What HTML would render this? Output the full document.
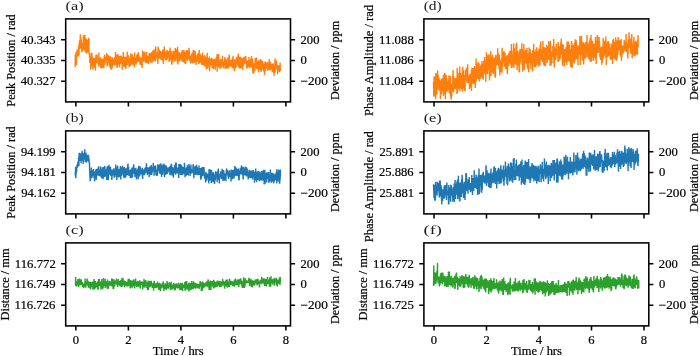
<!DOCTYPE html>
<html><head><meta charset="utf-8"><style>html,body{margin:0;padding:0;background:#fff;overflow:hidden}svg{display:block}</style></head><body>
<svg style="will-change:transform" width="700" height="356" viewBox="0 0 700 356">
<rect width="700" height="356" fill="#fff"/>
<path d="M75.2 67.0 75.3 54.5 75.5 61.4 75.6 57.9 75.8 57.8 75.9 58.0 76.1 51.7 76.2 56.6 76.3 53.9 76.5 64.9 76.6 56.4 76.8 53.6 76.9 53.4 77.1 51.6 77.2 49.5 77.3 51.8 77.5 54.9 77.6 51.5 77.8 55.7 77.9 50.5 78.1 50.8 78.2 56.6 78.3 51.6 78.5 46.5 78.6 47.3 78.8 49.8 78.9 55.5 79.1 44.2 79.2 43.9 79.3 49.1 79.5 40.3 79.6 43.3 79.8 48.5 79.9 47.2 80.1 44.8 80.2 47.5 80.3 34.3 80.5 48.8 80.6 40.3 80.8 37.4 80.9 46.6 81.1 48.6 81.2 43.2 81.3 40.0 81.5 45.4 81.6 45.1 81.8 52.3 81.9 49.3 82.1 47.4 82.2 51.7 82.3 45.9 82.5 42.8 82.6 49.5 82.8 49.5 82.9 45.9 83.1 43.3 83.2 47.7 83.4 35.2 83.5 49.6 83.6 48.8 83.8 38.9 83.9 45.9 84.1 41.3 84.2 49.3 84.4 36.7 84.5 41.2 84.6 49.0 84.8 50.4 84.9 35.1 85.1 42.7 85.2 46.6 85.4 42.3 85.5 52.6 85.6 39.7 85.8 46.9 85.9 40.6 86.1 52.0 86.2 45.7 86.4 44.3 86.5 38.5 86.6 53.6 86.8 49.2 86.9 49.7 87.1 51.5 87.2 47.4 87.4 42.9 87.5 42.2 87.6 42.3 87.8 52.5 87.9 39.7 88.1 43.8 88.2 44.6 88.4 46.8 88.5 48.4 88.6 40.3 88.8 37.8 88.9 47.7 89.1 54.3 89.2 53.4 89.4 53.1 89.5 52.7 89.6 57.4 89.8 57.4 89.9 63.1 90.1 57.5 90.2 61.5 90.4 60.6 90.5 62.9 90.6 61.2 90.8 69.8 90.9 66.0 91.1 66.1 91.2 53.3 91.4 60.1 91.5 58.7 91.6 62.3 91.8 52.5 91.9 65.0 92.1 64.8 92.2 56.5 92.4 57.8 92.5 58.6 92.6 61.8 92.8 64.4 92.9 69.7 93.1 61.3 93.2 64.7 93.4 62.5 93.5 68.1 93.6 64.4 93.8 66.8 93.9 57.9 94.1 61.3 94.2 58.9 94.4 67.6 94.5 64.2 94.6 60.9 94.8 60.2 94.9 63.1 95.1 59.0 95.2 58.2 95.4 63.1 95.5 70.4 95.6 59.9 95.8 58.5 95.9 55.6 96.1 54.9 96.2 61.6 96.4 62.9 96.5 60.0 96.6 61.5 96.8 61.1 96.9 61.0 97.1 54.5 97.2 58.1 97.4 60.1 97.5 57.4 97.7 59.0 97.8 57.4 97.9 59.5 98.1 63.7 98.2 58.8 98.4 59.6 98.5 63.4 98.7 62.8 98.8 66.7 98.9 52.5 99.1 63.2 99.2 58.2 99.4 60.5 99.5 62.6 99.7 63.4 99.8 63.0 99.9 59.5 100.1 65.0 100.2 58.1 100.4 58.7 100.5 62.1 100.7 57.2 100.8 67.9 100.9 64.0 101.1 68.3 101.2 60.2 101.4 59.1 101.5 61.2 101.7 63.6 101.8 58.9 101.9 63.1 102.1 62.2 102.2 68.3 102.4 60.0 102.5 66.7 102.7 60.7 102.8 59.5 102.9 60.7 103.1 58.4 103.2 63.3 103.4 66.2 103.5 63.0 103.7 64.5 103.8 68.2 103.9 63.1 104.1 62.6 104.2 60.7 104.4 55.6 104.5 64.2 104.7 54.7 104.8 63.7 104.9 61.0 105.1 64.8 105.2 60.1 105.4 57.2 105.5 61.5 105.7 57.9 105.8 59.5 105.9 59.9 106.1 59.4 106.2 59.8 106.4 57.9 106.5 60.4 106.7 53.1 106.8 60.5 106.9 56.6 107.1 65.6 107.2 66.4 107.4 54.5 107.5 62.3 107.7 61.1 107.8 57.0 107.9 62.6 108.1 59.4 108.2 55.2 108.4 60.5 108.5 60.8 108.7 62.1 108.8 56.8 108.9 64.2 109.1 64.5 109.2 57.0 109.4 58.1 109.5 60.2 109.7 58.3 109.8 66.9 109.9 61.0 110.1 56.1 110.2 56.9 110.4 59.4 110.5 68.5 110.7 59.9 110.8 61.6 110.9 63.2 111.1 61.0 111.2 69.7 111.4 59.6 111.5 64.3 111.7 62.3 111.8 64.0 112.0 57.0 112.1 68.5 112.2 61.3 112.4 62.3 112.5 58.6 112.7 59.1 112.8 63.7 113.0 65.1 113.1 64.0 113.2 65.6 113.4 63.4 113.5 60.3 113.7 62.7 113.8 61.5 114.0 58.8 114.1 62.0 114.2 63.7 114.4 59.5 114.5 57.2 114.7 61.2 114.8 65.6 115.0 57.8 115.1 58.0 115.2 58.0 115.4 63.1 115.5 52.1 115.7 60.1 115.8 63.2 116.0 56.4 116.1 65.1 116.2 61.8 116.4 58.0 116.5 60.9 116.7 54.5 116.8 58.1 117.0 67.9 117.1 57.7 117.2 68.1 117.4 61.3 117.5 65.8 117.7 62.3 117.8 54.0 118.0 60.1 118.1 63.0 118.2 58.2 118.4 57.2 118.5 63.2 118.7 59.5 118.8 55.8 119.0 59.2 119.1 64.8 119.2 60.1 119.4 65.2 119.5 67.5 119.7 61.6 119.8 57.1 120.0 56.0 120.1 60.7 120.2 63.9 120.4 61.6 120.5 62.6 120.7 59.0 120.8 61.9 121.0 59.1 121.1 59.9 121.2 56.0 121.4 55.7 121.5 59.8 121.7 57.3 121.8 57.5 122.0 63.4 122.1 60.5 122.2 69.7 122.4 64.1 122.5 58.5 122.7 64.0 122.8 62.6 123.0 58.8 123.1 65.1 123.2 58.3 123.4 51.9 123.5 64.2 123.7 58.6 123.8 66.1 124.0 58.5 124.1 56.6 124.2 67.1 124.4 56.8 124.5 61.7 124.7 66.6 124.8 61.8 125.0 60.8 125.1 61.5 125.2 63.9 125.4 57.5 125.5 62.9 125.7 62.8 125.8 69.0 126.0 58.5 126.1 56.7 126.2 62.7 126.4 59.0 126.5 61.3 126.7 60.8 126.8 65.0 127.0 57.9 127.1 59.3 127.3 51.8 127.4 56.0 127.5 64.7 127.7 56.4 127.8 56.2 128.0 54.9 128.1 61.3 128.3 60.2 128.4 55.9 128.5 62.4 128.7 60.8 128.8 63.2 129.0 58.4 129.1 67.2 129.3 62.2 129.4 60.0 129.5 58.3 129.7 59.4 129.8 63.6 130.0 59.5 130.1 64.7 130.3 63.1 130.4 65.9 130.5 63.7 130.7 60.3 130.8 53.2 131.0 61.3 131.1 63.1 131.3 60.9 131.4 61.9 131.5 57.8 131.7 58.1 131.8 56.1 132.0 64.7 132.1 60.1 132.3 57.6 132.4 54.3 132.5 58.7 132.7 64.5 132.8 60.4 133.0 56.7 133.1 64.3 133.3 64.4 133.4 63.0 133.5 62.5 133.7 64.2 133.8 62.0 134.0 62.9 134.1 57.1 134.3 65.4 134.4 60.4 134.5 67.2 134.7 52.5 134.8 62.2 135.0 62.7 135.1 58.1 135.3 61.5 135.4 63.0 135.5 62.3 135.7 58.0 135.8 59.3 136.0 63.1 136.1 64.4 136.3 60.4 136.4 60.1 136.5 60.2 136.7 62.7 136.8 55.1 137.0 54.5 137.1 59.3 137.3 54.9 137.4 56.6 137.5 59.1 137.7 60.1 137.8 54.8 138.0 61.9 138.1 52.5 138.3 60.3 138.4 52.2 138.5 53.6 138.7 61.2 138.8 57.3 139.0 55.7 139.1 57.5 139.3 60.6 139.4 58.8 139.5 59.0 139.7 63.3 139.8 56.9 140.0 57.5 140.1 57.6 140.3 64.2 140.4 63.8 140.5 65.0 140.7 60.6 140.8 60.1 141.0 63.8 141.1 58.6 141.3 63.5 141.4 63.0 141.6 57.6 141.7 60.0 141.8 59.9 142.0 66.9 142.1 67.9 142.3 59.3 142.4 59.3 142.6 50.6 142.7 59.4 142.8 58.5 143.0 54.5 143.1 61.1 143.3 52.4 143.4 57.3 143.6 58.5 143.7 53.2 143.8 61.0 144.0 61.8 144.1 52.6 144.3 51.8 144.4 59.4 144.6 56.6 144.7 51.7 144.8 55.2 145.0 55.9 145.1 55.9 145.3 59.2 145.4 57.8 145.6 63.2 145.7 61.5 145.8 59.1 146.0 60.2 146.1 61.5 146.3 59.0 146.4 52.1 146.6 59.8 146.7 56.5 146.8 62.2 147.0 56.4 147.1 58.4 147.3 58.3 147.4 63.2 147.6 57.9 147.7 56.6 147.8 58.2 148.0 55.5 148.1 57.6 148.3 57.3 148.4 58.2 148.6 64.2 148.7 55.6 148.8 57.2 149.0 56.5 149.1 59.9 149.3 52.8 149.4 54.3 149.6 57.3 149.7 59.7 149.8 57.5 150.0 55.9 150.1 53.8 150.3 59.1 150.4 62.6 150.6 58.0 150.7 57.4 150.8 58.4 151.0 53.0 151.1 55.6 151.3 55.6 151.4 57.6 151.6 56.4 151.7 52.1 151.8 60.6 152.0 62.8 152.1 55.4 152.3 58.2 152.4 57.8 152.6 58.9 152.7 50.4 152.8 61.7 153.0 54.1 153.1 60.8 153.3 56.2 153.4 54.4 153.6 55.3 153.7 59.3 153.8 52.7 154.0 54.4 154.1 53.9 154.3 49.2 154.4 60.5 154.6 57.7 154.7 55.7 154.8 60.3 155.0 52.1 155.1 55.3 155.3 61.7 155.4 58.7 155.6 46.9 155.7 46.8 155.9 51.8 156.0 59.1 156.1 53.7 156.3 54.4 156.4 57.6 156.6 52.2 156.7 55.9 156.9 58.0 157.0 56.7 157.1 55.9 157.3 52.4 157.4 56.4 157.6 53.1 157.7 59.4 157.9 64.0 158.0 52.1 158.1 46.4 158.3 52.8 158.4 56.0 158.6 58.5 158.7 58.4 158.9 51.3 159.0 51.2 159.1 58.3 159.3 49.5 159.4 57.6 159.6 52.6 159.7 56.1 159.9 56.0 160.0 56.7 160.1 57.4 160.3 50.9 160.4 56.0 160.6 55.1 160.7 56.2 160.9 59.8 161.0 54.3 161.1 52.7 161.3 52.6 161.4 54.1 161.6 58.1 161.7 52.4 161.9 59.9 162.0 57.1 162.1 55.5 162.3 51.2 162.4 56.7 162.6 58.7 162.7 49.5 162.9 60.1 163.0 61.5 163.1 56.7 163.3 57.1 163.4 64.1 163.6 59.7 163.7 51.7 163.9 54.8 164.0 54.2 164.1 54.5 164.3 46.5 164.4 57.9 164.6 52.7 164.7 55.4 164.9 54.5 165.0 58.3 165.1 53.7 165.3 51.8 165.4 56.7 165.6 59.8 165.7 53.4 165.9 60.1 166.0 55.6 166.1 52.4 166.3 60.4 166.4 51.0 166.6 58.1 166.7 52.4 166.9 56.1 167.0 50.1 167.1 51.9 167.3 59.4 167.4 56.4 167.6 56.2 167.7 54.9 167.9 57.9 168.0 50.9 168.1 51.6 168.3 55.0 168.4 52.5 168.6 52.5 168.7 54.8 168.9 54.2 169.0 54.5 169.1 62.0 169.3 59.5 169.4 60.5 169.6 55.4 169.7 53.9 169.9 50.4 170.0 54.1 170.1 47.6 170.3 52.8 170.4 57.6 170.6 60.4 170.7 57.8 170.9 51.0 171.0 56.1 171.2 51.2 171.3 57.6 171.4 54.3 171.6 58.4 171.7 64.7 171.9 58.6 172.0 63.7 172.2 55.7 172.3 54.0 172.4 60.6 172.6 62.5 172.7 53.9 172.9 56.3 173.0 50.8 173.2 55.2 173.3 59.5 173.4 55.9 173.6 54.3 173.7 51.0 173.9 57.5 174.0 58.7 174.2 58.4 174.3 56.9 174.4 51.0 174.6 61.8 174.7 55.4 174.9 55.5 175.0 58.7 175.2 48.0 175.3 55.6 175.4 54.8 175.6 56.9 175.7 60.7 175.9 57.2 176.0 48.8 176.2 53.8 176.3 55.9 176.4 55.9 176.6 51.1 176.7 50.5 176.9 58.4 177.0 57.9 177.2 56.4 177.3 50.1 177.4 63.2 177.6 46.8 177.7 55.4 177.9 64.5 178.0 56.0 178.2 57.5 178.3 52.2 178.4 61.8 178.6 51.5 178.7 57.4 178.9 57.4 179.0 53.2 179.2 61.2 179.3 52.6 179.4 55.3 179.6 57.1 179.7 55.5 179.9 59.2 180.0 60.7 180.2 55.8 180.3 54.5 180.4 54.4 180.6 54.8 180.7 58.8 180.9 54.6 181.0 56.8 181.2 55.1 181.3 52.4 181.4 58.6 181.6 52.1 181.7 55.8 181.9 61.3 182.0 51.8 182.2 55.6 182.3 49.9 182.4 53.8 182.6 50.2 182.7 54.3 182.9 53.6 183.0 56.3 183.2 62.0 183.3 57.6 183.4 59.1 183.6 56.2 183.7 55.8 183.9 53.6 184.0 50.2 184.2 57.0 184.3 63.2 184.4 59.2 184.6 55.2 184.7 63.1 184.9 54.9 185.0 54.1 185.2 51.9 185.3 53.0 185.5 55.3 185.6 63.9 185.7 55.8 185.9 52.7 186.0 54.4 186.2 55.9 186.3 50.2 186.5 56.9 186.6 59.2 186.7 57.8 186.9 58.5 187.0 51.7 187.2 50.1 187.3 60.7 187.5 60.5 187.6 50.8 187.7 57.5 187.9 57.1 188.0 59.2 188.2 57.8 188.3 55.0 188.5 58.1 188.6 58.4 188.7 57.4 188.9 50.9 189.0 47.7 189.2 54.6 189.3 51.5 189.5 58.8 189.6 60.3 189.7 58.5 189.9 56.7 190.0 58.2 190.2 62.7 190.3 55.7 190.5 61.2 190.6 60.5 190.7 58.9 190.9 63.6 191.0 55.7 191.2 62.0 191.3 55.0 191.5 55.8 191.6 54.4 191.7 59.8 191.9 54.0 192.0 57.5 192.2 52.6 192.3 60.5 192.5 62.9 192.6 57.0 192.7 62.5 192.9 58.2 193.0 63.6 193.2 56.0 193.3 50.0 193.5 61.5 193.6 55.4 193.7 52.0 193.9 53.8 194.0 50.4 194.2 55.9 194.3 52.9 194.5 62.7 194.6 59.4 194.7 50.9 194.9 52.1 195.0 55.9 195.2 51.1 195.3 57.9 195.5 58.6 195.6 55.5 195.7 56.4 195.9 60.4 196.0 64.3 196.2 64.8 196.3 59.2 196.5 62.1 196.6 56.3 196.7 60.4 196.9 55.5 197.0 61.7 197.2 54.4 197.3 55.3 197.5 58.4 197.6 60.9 197.7 53.5 197.9 56.4 198.0 59.1 198.2 59.4 198.3 55.4 198.5 58.6 198.6 57.8 198.7 63.9 198.9 61.1 199.0 53.8 199.2 50.1 199.3 58.5 199.5 62.7 199.6 59.0 199.7 62.1 199.9 57.0 200.0 53.8 200.2 61.6 200.3 59.8 200.5 61.9 200.6 54.5 200.8 60.5 200.9 57.9 201.0 62.8 201.2 57.8 201.3 58.1 201.5 57.9 201.6 64.7 201.8 60.7 201.9 57.1 202.0 55.8 202.2 56.1 202.3 65.1 202.5 52.6 202.6 56.3 202.8 61.3 202.9 63.1 203.0 58.5 203.2 62.1 203.3 62.0 203.5 63.0 203.6 59.7 203.8 65.4 203.9 60.1 204.0 65.8 204.2 56.3 204.3 63.9 204.5 55.8 204.6 55.2 204.8 62.1 204.9 57.2 205.0 62.4 205.2 56.6 205.3 66.8 205.5 61.2 205.6 57.2 205.8 62.1 205.9 65.2 206.0 58.7 206.2 63.7 206.3 69.4 206.5 65.1 206.6 62.1 206.8 60.0 206.9 64.1 207.0 56.5 207.2 52.8 207.3 59.8 207.5 58.2 207.6 68.5 207.8 62.6 207.9 58.8 208.0 58.1 208.2 65.0 208.3 60.1 208.5 60.9 208.6 62.2 208.8 63.0 208.9 62.8 209.0 62.4 209.2 66.8 209.3 68.3 209.5 56.5 209.6 71.3 209.8 62.5 209.9 66.8 210.0 58.9 210.2 62.6 210.3 61.9 210.5 61.8 210.6 65.1 210.8 64.8 210.9 58.7 211.0 61.6 211.2 64.5 211.3 64.1 211.5 60.5 211.6 61.2 211.8 61.8 211.9 58.3 212.0 57.8 212.2 68.1 212.3 60.7 212.5 62.2 212.6 59.3 212.8 66.7 212.9 68.3 213.0 61.3 213.2 64.1 213.3 59.4 213.5 69.3 213.6 66.0 213.8 59.2 213.9 66.8 214.0 64.1 214.2 63.9 214.3 63.6 214.5 59.8 214.6 60.0 214.8 64.6 214.9 62.0 215.1 58.7 215.2 69.7 215.3 61.4 215.5 60.2 215.6 59.6 215.8 65.2 215.9 66.4 216.1 63.4 216.2 65.8 216.3 57.1 216.5 60.5 216.6 59.8 216.8 61.4 216.9 63.5 217.1 53.9 217.2 71.7 217.3 59.3 217.5 63.8 217.6 65.7 217.8 65.8 217.9 63.9 218.1 54.0 218.2 59.1 218.3 66.1 218.5 60.1 218.6 59.6 218.8 54.7 218.9 67.7 219.1 65.1 219.2 60.1 219.3 63.2 219.5 63.3 219.6 59.8 219.8 63.2 219.9 65.1 220.1 66.2 220.2 68.9 220.3 63.8 220.5 61.8 220.6 65.1 220.8 61.5 220.9 59.1 221.1 68.0 221.2 62.1 221.3 64.5 221.5 65.8 221.6 59.5 221.8 65.7 221.9 65.3 222.1 63.3 222.2 64.9 222.3 60.7 222.5 55.7 222.6 62.8 222.8 59.9 222.9 66.5 223.1 64.5 223.2 61.6 223.3 63.8 223.5 68.3 223.6 67.7 223.8 64.4 223.9 64.3 224.1 62.1 224.2 62.5 224.3 64.8 224.5 62.6 224.6 64.0 224.8 59.1 224.9 57.7 225.1 57.2 225.2 61.9 225.3 68.7 225.5 68.4 225.6 60.6 225.8 58.8 225.9 67.5 226.1 66.2 226.2 59.4 226.3 68.2 226.5 64.8 226.6 68.7 226.8 65.3 226.9 67.4 227.1 65.5 227.2 60.8 227.3 63.3 227.5 60.9 227.6 66.8 227.8 60.2 227.9 57.7 228.1 66.1 228.2 67.4 228.3 68.3 228.5 66.7 228.6 56.8 228.8 60.1 228.9 60.0 229.1 61.6 229.2 54.4 229.4 61.6 229.5 63.1 229.6 58.7 229.8 62.2 229.9 66.3 230.1 62.0 230.2 66.0 230.4 65.8 230.5 63.9 230.6 63.8 230.8 61.1 230.9 67.2 231.1 61.0 231.2 60.2 231.4 65.4 231.5 60.0 231.6 64.0 231.8 66.3 231.9 63.0 232.1 63.3 232.2 66.3 232.4 66.1 232.5 57.9 232.6 58.5 232.8 68.4 232.9 64.9 233.1 55.8 233.2 58.6 233.4 63.9 233.5 60.5 233.6 66.1 233.8 63.9 233.9 65.3 234.1 59.2 234.2 66.1 234.4 71.2 234.5 61.7 234.6 69.7 234.8 68.1 234.9 66.4 235.1 63.4 235.2 59.5 235.4 60.5 235.5 66.4 235.6 67.1 235.8 67.9 235.9 66.8 236.1 66.4 236.2 61.3 236.4 58.3 236.5 63.4 236.6 64.1 236.8 62.6 236.9 56.7 237.1 60.4 237.2 56.4 237.4 62.1 237.5 57.1 237.6 60.1 237.8 62.1 237.9 61.3 238.1 66.7 238.2 57.5 238.4 53.6 238.5 64.7 238.6 66.8 238.8 67.3 238.9 63.3 239.1 64.0 239.2 62.4 239.4 57.0 239.5 59.3 239.6 63.2 239.8 59.6 239.9 69.1 240.1 56.5 240.2 60.5 240.4 66.2 240.5 60.0 240.6 58.1 240.8 57.4 240.9 60.0 241.1 68.0 241.2 63.4 241.4 64.4 241.5 60.9 241.6 65.5 241.8 62.6 241.9 58.6 242.1 60.5 242.2 63.4 242.4 67.1 242.5 62.0 242.6 64.3 242.8 70.0 242.9 59.4 243.1 57.5 243.2 66.2 243.4 63.9 243.5 61.9 243.6 63.4 243.8 61.1 243.9 63.8 244.1 60.4 244.2 64.5 244.4 56.8 244.5 58.0 244.7 61.6 244.8 59.4 244.9 63.5 245.1 61.3 245.2 59.6 245.4 61.9 245.5 59.8 245.7 55.9 245.8 57.6 245.9 58.6 246.1 60.0 246.2 61.6 246.4 65.1 246.5 63.9 246.7 68.4 246.8 66.4 246.9 61.7 247.1 68.4 247.2 66.6 247.4 60.5 247.5 63.5 247.7 66.5 247.8 63.1 247.9 66.1 248.1 63.9 248.2 65.2 248.4 61.8 248.5 64.0 248.7 61.8 248.8 65.6 248.9 56.9 249.1 64.7 249.2 68.3 249.4 65.6 249.5 63.2 249.7 65.0 249.8 60.0 249.9 59.9 250.1 61.7 250.2 62.6 250.4 66.9 250.5 60.0 250.7 67.3 250.8 58.4 250.9 61.2 251.1 63.9 251.2 67.8 251.4 61.7 251.5 56.1 251.7 65.1 251.8 63.5 251.9 59.5 252.1 59.4 252.2 61.0 252.4 64.4 252.5 66.6 252.7 59.3 252.8 73.0 252.9 64.4 253.1 63.5 253.2 67.5 253.4 65.6 253.5 73.6 253.7 69.6 253.8 63.9 253.9 64.2 254.1 63.9 254.2 64.7 254.4 68.1 254.5 62.8 254.7 71.2 254.8 65.1 254.9 64.6 255.1 68.9 255.2 58.1 255.4 61.4 255.5 67.5 255.7 64.9 255.8 65.0 255.9 66.5 256.1 62.6 256.2 63.8 256.4 59.5 256.5 57.5 256.7 68.8 256.8 60.5 256.9 61.4 257.1 68.9 257.2 67.8 257.4 62.3 257.5 62.6 257.7 64.8 257.8 61.5 257.9 67.6 258.1 66.2 258.2 66.2 258.4 68.8 258.5 68.6 258.7 72.5 258.8 71.5 259.0 59.8 259.1 69.5 259.2 62.3 259.4 60.8 259.5 68.7 259.7 63.4 259.8 64.5 260.0 69.9 260.1 63.7 260.2 62.5 260.4 67.0 260.5 70.1 260.7 66.6 260.8 58.9 261.0 62.3 261.1 64.2 261.2 71.9 261.4 68.1 261.5 67.9 261.7 69.5 261.8 64.1 262.0 66.9 262.1 66.6 262.2 60.8 262.4 64.7 262.5 66.7 262.7 60.7 262.8 68.4 263.0 68.6 263.1 69.7 263.2 63.2 263.4 66.4 263.5 71.5 263.7 69.7 263.8 64.0 264.0 67.3 264.1 71.2 264.2 65.5 264.4 67.1 264.5 75.0 264.7 65.6 264.8 65.2 265.0 61.6 265.1 63.0 265.2 71.6 265.4 65.7 265.5 62.1 265.7 63.2 265.8 66.4 266.0 68.7 266.1 63.0 266.2 68.8 266.4 64.2 266.5 67.5 266.7 68.1 266.8 68.2 267.0 64.6 267.1 65.7 267.2 68.4 267.4 61.9 267.5 67.1 267.7 68.9 267.8 70.6 268.0 66.9 268.1 66.4 268.2 67.2 268.4 63.9 268.5 66.1 268.7 68.3 268.8 67.7 269.0 62.7 269.1 65.9 269.2 58.9 269.4 69.9 269.5 65.3 269.7 67.9 269.8 62.5 270.0 66.3 270.1 68.2 270.2 70.4 270.4 61.5 270.5 69.7 270.7 65.7 270.8 63.8 271.0 68.4 271.1 65.9 271.2 66.0 271.4 64.4 271.5 67.4 271.7 66.8 271.8 66.1 272.0 63.7 272.1 64.9 272.2 68.4 272.4 71.6 272.5 66.8 272.7 72.1 272.8 67.0 273.0 63.4 273.1 69.8 273.3 63.5 273.4 68.9 273.5 71.4 273.7 66.3 273.8 67.3 274.0 76.1 274.1 68.4 274.3 68.4 274.4 70.5 274.5 66.9 274.7 67.0 274.8 68.7 275.0 58.5 275.1 72.8 275.3 63.3 275.4 63.1 275.5 68.4 275.7 66.4 275.8 61.8 276.0 67.0 276.1 62.1 276.3 63.9 276.4 60.6 276.5 62.6 276.7 67.4 276.8 66.5 277.0 67.3 277.1 69.7 277.3 66.6 277.4 64.9 277.5 66.7 277.7 74.3 277.8 68.7 278.0 69.8 278.1 68.3 278.3 69.6 278.4 70.2 278.5 68.9 278.7 68.6 278.8 66.1 279.0 65.6 279.1 70.0 279.3 71.3 279.4 71.9 279.5 69.1 279.7 65.7 279.8 70.8 280.0 70.5 280.1 62.5 280.3 70.7 280.4 69.3" fill="none" stroke="#ff7f0e" stroke-width="1.4" stroke-linejoin="miter" stroke-miterlimit="2"/>
<path d="M75.2 175.5 75.3 173.1 75.5 173.1 75.6 166.8 75.8 178.2 75.9 175.5 76.1 170.6 76.2 173.1 76.3 171.3 76.5 168.1 76.6 171.6 76.8 167.3 76.9 166.5 77.1 164.6 77.2 167.8 77.3 165.8 77.5 167.7 77.6 163.7 77.8 165.2 77.9 161.4 78.1 165.4 78.2 163.0 78.3 162.9 78.5 162.1 78.6 157.2 78.8 162.5 78.9 166.2 79.1 153.8 79.2 153.2 79.3 152.8 79.5 159.9 79.6 157.9 79.8 160.9 79.9 159.6 80.1 158.1 80.2 158.4 80.3 156.8 80.5 159.8 80.6 153.3 80.8 155.9 80.9 158.0 81.1 163.2 81.2 154.8 81.3 153.4 81.5 155.2 81.6 159.9 81.8 156.0 81.9 160.8 82.1 150.7 82.2 160.2 82.3 159.7 82.5 152.0 82.6 156.9 82.8 160.3 82.9 156.9 83.1 159.9 83.2 163.9 83.4 157.3 83.5 155.1 83.6 153.6 83.8 158.1 83.9 155.6 84.1 156.1 84.2 156.1 84.4 158.6 84.5 152.9 84.6 151.8 84.8 149.3 84.9 160.6 85.1 157.1 85.2 161.9 85.4 157.4 85.5 154.9 85.6 159.0 85.8 157.1 85.9 152.7 86.1 153.9 86.2 162.8 86.4 158.3 86.5 159.2 86.6 157.1 86.8 155.2 86.9 160.2 87.1 156.8 87.2 154.9 87.4 156.9 87.5 154.9 87.6 158.0 87.8 161.1 87.9 154.7 88.1 161.8 88.2 155.1 88.4 157.7 88.5 154.8 88.6 157.0 88.8 157.7 88.9 158.8 89.1 160.0 89.2 162.0 89.4 163.8 89.5 162.6 89.6 169.0 89.8 173.5 89.9 176.9 90.1 175.9 90.2 181.2 90.4 174.8 90.5 172.4 90.6 180.0 90.8 170.4 90.9 177.0 91.1 170.9 91.2 175.2 91.4 167.5 91.5 176.0 91.6 172.4 91.8 169.9 91.9 177.9 92.1 175.2 92.2 173.2 92.4 170.5 92.5 173.4 92.6 172.6 92.8 175.4 92.9 176.0 93.1 171.4 93.2 171.6 93.4 171.7 93.5 169.1 93.6 171.9 93.8 173.6 93.9 176.3 94.1 178.1 94.2 171.2 94.4 176.2 94.5 173.3 94.6 181.4 94.8 174.5 94.9 176.7 95.1 172.1 95.2 172.4 95.4 175.3 95.5 172.8 95.6 175.8 95.8 169.6 95.9 176.1 96.1 171.3 96.2 179.9 96.4 173.1 96.5 177.2 96.6 168.8 96.8 174.6 96.9 170.2 97.1 171.6 97.2 173.3 97.4 172.0 97.5 173.9 97.7 175.2 97.8 175.0 97.9 172.3 98.1 168.3 98.2 169.9 98.4 172.2 98.5 166.2 98.7 175.1 98.8 172.1 98.9 172.0 99.1 175.9 99.2 174.5 99.4 173.4 99.5 169.6 99.7 173.8 99.8 174.2 99.9 169.8 100.1 176.2 100.2 174.4 100.4 166.5 100.5 173.3 100.7 168.9 100.8 176.7 100.9 175.6 101.1 169.5 101.2 170.3 101.4 173.6 101.5 172.4 101.7 178.3 101.8 176.0 101.9 173.0 102.1 175.4 102.2 167.2 102.4 174.6 102.5 176.6 102.7 172.9 102.8 170.5 102.9 174.9 103.1 179.3 103.2 173.8 103.4 169.7 103.5 177.6 103.7 167.0 103.8 174.7 103.9 171.4 104.1 176.3 104.2 170.5 104.4 177.1 104.5 173.9 104.7 167.1 104.8 165.9 104.9 170.9 105.1 176.2 105.2 172.5 105.4 172.3 105.5 171.1 105.7 174.5 105.8 173.7 105.9 173.3 106.1 169.4 106.2 176.3 106.4 176.7 106.5 168.7 106.7 180.1 106.8 175.5 106.9 171.4 107.1 166.5 107.2 174.5 107.4 174.5 107.5 170.4 107.7 166.3 107.8 175.7 107.9 170.3 108.1 170.7 108.2 180.1 108.4 179.1 108.5 175.5 108.7 170.6 108.8 174.2 108.9 164.8 109.1 172.1 109.2 169.1 109.4 167.6 109.5 166.6 109.7 173.2 109.8 172.1 109.9 172.4 110.1 174.6 110.2 169.5 110.4 168.4 110.5 166.9 110.7 172.0 110.8 175.9 110.9 173.1 111.1 175.5 111.2 169.6 111.4 171.9 111.5 171.0 111.7 169.9 111.8 179.9 112.0 176.8 112.1 171.9 112.2 172.2 112.4 174.4 112.5 169.9 112.7 175.6 112.8 169.8 113.0 172.5 113.1 170.7 113.2 172.5 113.4 169.6 113.5 168.7 113.7 170.2 113.8 170.7 114.0 172.1 114.1 173.2 114.2 177.7 114.4 175.3 114.5 172.0 114.7 174.9 114.8 169.9 115.0 176.8 115.1 173.8 115.2 167.9 115.4 174.9 115.5 175.1 115.7 164.6 115.8 170.5 116.0 171.4 116.1 166.7 116.2 169.2 116.4 169.8 116.5 174.7 116.7 174.3 116.8 179.9 117.0 171.9 117.1 176.5 117.2 172.7 117.4 173.5 117.5 168.7 117.7 165.8 117.8 169.7 118.0 174.5 118.1 176.9 118.2 173.9 118.4 173.2 118.5 169.2 118.7 176.9 118.8 176.9 119.0 170.7 119.1 172.4 119.2 169.0 119.4 176.9 119.5 173.3 119.7 171.8 119.8 173.2 120.0 173.2 120.1 170.8 120.2 168.1 120.4 167.5 120.5 165.9 120.7 173.6 120.8 179.4 121.0 167.0 121.1 173.0 121.2 173.8 121.4 169.4 121.5 173.1 121.7 168.9 121.8 175.7 122.0 169.9 122.1 172.0 122.2 174.2 122.4 170.4 122.5 165.8 122.7 169.6 122.8 173.6 123.0 171.5 123.1 172.6 123.2 168.3 123.4 172.4 123.5 174.4 123.7 172.1 123.8 177.8 124.0 171.1 124.1 168.8 124.2 167.0 124.4 176.0 124.5 172.4 124.7 175.6 124.8 174.1 125.0 178.1 125.1 176.5 125.2 171.0 125.4 172.8 125.5 175.3 125.7 168.2 125.8 176.8 126.0 175.9 126.1 175.0 126.2 171.5 126.4 172.9 126.5 168.3 126.7 171.8 126.8 169.6 127.0 171.8 127.1 170.2 127.3 172.5 127.4 175.3 127.5 166.7 127.7 173.9 127.8 164.4 128.0 164.3 128.1 170.8 128.3 171.4 128.4 172.9 128.5 166.7 128.7 171.4 128.8 172.1 129.0 176.0 129.1 172.0 129.3 174.3 129.4 169.7 129.5 172.0 129.7 171.6 129.8 175.0 130.0 169.8 130.1 170.1 130.3 174.7 130.4 178.2 130.5 173.9 130.7 173.7 130.8 171.6 131.0 176.3 131.1 174.4 131.3 178.1 131.4 173.6 131.5 169.2 131.7 170.4 131.8 168.8 132.0 167.8 132.1 175.8 132.3 174.0 132.4 167.5 132.5 177.4 132.7 171.9 132.8 168.4 133.0 172.8 133.1 171.2 133.3 168.7 133.4 165.4 133.5 171.8 133.7 172.6 133.8 164.2 134.0 173.7 134.1 173.6 134.3 170.4 134.4 172.3 134.5 171.7 134.7 169.8 134.8 171.8 135.0 177.2 135.1 168.3 135.3 173.8 135.4 173.5 135.5 170.7 135.7 171.4 135.8 167.9 136.0 169.7 136.1 172.7 136.3 173.9 136.4 170.0 136.5 179.5 136.7 171.1 136.8 173.1 137.0 171.8 137.1 171.3 137.3 176.4 137.4 170.4 137.5 175.8 137.7 175.6 137.8 168.5 138.0 174.8 138.1 169.2 138.3 179.3 138.4 170.5 138.5 168.8 138.7 165.7 138.8 167.4 139.0 170.0 139.1 168.6 139.3 167.8 139.4 169.4 139.5 171.2 139.7 176.4 139.8 166.2 140.0 170.1 140.1 168.8 140.3 167.1 140.4 168.0 140.5 169.1 140.7 173.9 140.8 171.1 141.0 170.5 141.1 174.3 141.3 172.8 141.4 171.4 141.6 173.5 141.7 169.7 141.8 174.0 142.0 173.1 142.1 170.4 142.3 167.8 142.4 176.8 142.6 172.2 142.7 178.9 142.8 169.9 143.0 174.5 143.1 170.5 143.3 172.6 143.4 174.3 143.6 169.2 143.7 171.6 143.8 172.6 144.0 172.1 144.1 173.5 144.3 175.2 144.4 174.1 144.6 171.8 144.7 170.2 144.8 168.4 145.0 169.5 145.1 170.0 145.3 173.5 145.4 170.0 145.6 167.1 145.7 172.8 145.8 168.2 146.0 168.4 146.1 170.1 146.3 172.3 146.4 163.2 146.6 166.6 146.7 170.9 146.8 169.2 147.0 167.7 147.1 168.6 147.3 174.9 147.4 169.7 147.6 173.1 147.7 173.2 147.8 169.1 148.0 171.6 148.1 169.0 148.3 168.8 148.4 167.4 148.6 173.8 148.7 169.9 148.8 169.3 149.0 167.5 149.1 177.1 149.3 173.7 149.4 171.0 149.6 169.6 149.7 166.5 149.8 172.4 150.0 172.3 150.1 166.6 150.3 174.6 150.4 173.0 150.6 167.8 150.7 169.1 150.8 169.3 151.0 171.3 151.1 170.1 151.3 164.9 151.4 174.9 151.6 171.1 151.7 174.5 151.8 174.3 152.0 169.4 152.1 170.9 152.3 171.9 152.4 172.1 152.6 168.6 152.7 167.5 152.8 169.1 153.0 166.5 153.1 167.8 153.3 162.9 153.4 169.7 153.6 166.2 153.7 167.3 153.8 169.1 154.0 170.7 154.1 175.8 154.3 170.9 154.4 165.8 154.6 171.1 154.7 168.5 154.8 172.1 155.0 168.4 155.1 168.4 155.3 169.6 155.4 169.3 155.6 165.5 155.7 169.1 155.9 171.6 156.0 175.3 156.1 170.4 156.3 170.2 156.4 173.0 156.6 172.7 156.7 176.0 156.9 172.6 157.0 170.8 157.1 175.0 157.3 175.7 157.4 168.7 157.6 170.3 157.7 164.3 157.9 168.1 158.0 166.6 158.1 168.8 158.3 167.8 158.4 168.4 158.6 168.8 158.7 170.8 158.9 170.0 159.0 167.7 159.1 165.1 159.3 172.9 159.4 173.5 159.6 167.6 159.7 170.9 159.9 164.3 160.0 164.0 160.1 168.5 160.3 173.5 160.4 165.6 160.6 166.5 160.7 174.2 160.9 163.2 161.0 171.4 161.1 171.2 161.3 168.5 161.4 170.2 161.6 176.9 161.7 165.7 161.9 168.1 162.0 168.3 162.1 167.3 162.3 165.4 162.4 174.8 162.6 170.6 162.7 164.4 162.9 167.6 163.0 171.2 163.1 170.7 163.3 164.8 163.4 169.2 163.6 169.9 163.7 170.4 163.9 170.6 164.0 163.6 164.1 174.7 164.3 170.2 164.4 175.0 164.6 177.2 164.7 168.3 164.9 165.2 165.0 172.0 165.1 168.8 165.3 168.2 165.4 166.3 165.6 174.9 165.7 168.3 165.9 165.3 166.0 168.3 166.1 165.8 166.3 169.9 166.4 168.0 166.6 166.4 166.7 171.5 166.9 167.4 167.0 172.0 167.1 173.9 167.3 168.8 167.4 167.8 167.6 171.0 167.7 173.4 167.9 170.7 168.0 170.8 168.1 169.8 168.3 170.9 168.4 171.8 168.6 167.5 168.7 168.0 168.9 169.5 169.0 167.2 169.1 169.8 169.3 171.4 169.4 170.1 169.6 167.7 169.7 167.1 169.9 175.3 170.0 172.3 170.1 166.1 170.3 166.4 170.4 175.2 170.6 174.3 170.7 169.7 170.9 172.7 171.0 164.5 171.2 169.6 171.3 172.0 171.4 163.8 171.6 167.5 171.7 172.7 171.9 174.1 172.0 168.7 172.2 171.7 172.3 175.8 172.4 169.2 172.6 166.7 172.7 170.7 172.9 169.6 173.0 174.8 173.2 170.8 173.3 167.9 173.4 177.8 173.6 168.5 173.7 171.4 173.9 172.3 174.0 172.8 174.2 171.0 174.3 172.0 174.4 169.5 174.6 164.8 174.7 168.9 174.9 169.1 175.0 168.9 175.2 170.2 175.3 167.6 175.4 173.9 175.6 174.4 175.7 162.6 175.9 169.5 176.0 167.2 176.2 162.5 176.3 170.7 176.4 167.6 176.6 168.1 176.7 167.5 176.9 172.8 177.0 173.4 177.2 169.9 177.3 171.9 177.4 169.4 177.6 170.5 177.7 167.6 177.9 170.2 178.0 168.1 178.2 171.3 178.3 173.2 178.4 172.0 178.6 174.6 178.7 178.0 178.9 164.0 179.0 170.9 179.2 169.4 179.3 170.3 179.4 167.4 179.6 172.4 179.7 171.3 179.9 170.1 180.0 171.2 180.2 170.1 180.3 164.0 180.4 175.1 180.6 171.2 180.7 169.0 180.9 172.6 181.0 169.7 181.2 164.7 181.3 174.1 181.4 166.0 181.6 170.6 181.7 171.6 181.9 175.0 182.0 173.9 182.2 170.2 182.3 166.6 182.4 167.8 182.6 172.4 182.7 174.7 182.9 170.8 183.0 167.0 183.2 172.4 183.3 167.8 183.4 167.8 183.6 168.3 183.7 171.2 183.9 170.4 184.0 172.6 184.2 173.7 184.3 170.9 184.4 162.8 184.6 163.7 184.7 169.7 184.9 169.5 185.0 177.2 185.2 170.5 185.3 170.3 185.5 174.2 185.6 174.6 185.7 170.9 185.9 173.1 186.0 168.0 186.2 168.8 186.3 175.8 186.5 167.3 186.6 174.5 186.7 173.6 186.9 173.8 187.0 174.5 187.2 173.7 187.3 165.3 187.5 169.0 187.6 170.1 187.7 175.0 187.9 167.9 188.0 169.2 188.2 170.2 188.3 175.6 188.5 166.6 188.6 166.9 188.7 172.7 188.9 163.9 189.0 171.4 189.2 168.8 189.3 165.5 189.5 169.1 189.6 167.3 189.7 171.4 189.9 172.3 190.0 175.9 190.2 170.7 190.3 170.9 190.5 168.4 190.6 170.2 190.7 173.7 190.9 164.6 191.0 173.0 191.2 169.1 191.3 171.5 191.5 172.1 191.6 173.4 191.7 171.2 191.9 169.2 192.0 171.5 192.2 170.4 192.3 169.4 192.5 171.1 192.6 173.0 192.7 170.4 192.9 170.3 193.0 165.4 193.2 169.3 193.3 163.9 193.5 172.3 193.6 167.0 193.7 174.3 193.9 178.4 194.0 168.1 194.2 173.8 194.3 170.6 194.5 167.7 194.6 167.2 194.7 171.9 194.9 175.0 195.0 171.3 195.2 165.7 195.3 167.3 195.5 169.8 195.6 175.0 195.7 171.9 195.9 172.1 196.0 174.7 196.2 169.9 196.3 170.1 196.5 169.8 196.6 164.8 196.7 171.8 196.9 171.9 197.0 174.2 197.2 166.8 197.3 168.3 197.5 173.9 197.6 171.9 197.7 175.2 197.9 168.0 198.0 171.5 198.2 168.6 198.3 172.0 198.5 169.6 198.6 173.1 198.7 174.6 198.9 173.3 199.0 165.5 199.2 175.0 199.3 173.8 199.5 168.8 199.6 169.4 199.7 172.4 199.9 174.5 200.0 171.3 200.2 168.0 200.3 174.0 200.5 173.2 200.6 179.5 200.8 167.9 200.9 179.7 201.0 177.7 201.2 173.3 201.3 177.6 201.5 172.6 201.6 175.5 201.8 170.0 201.9 172.4 202.0 169.0 202.2 166.9 202.3 170.9 202.5 169.8 202.6 173.6 202.8 176.1 202.9 171.2 203.0 172.1 203.2 172.3 203.3 167.0 203.5 173.5 203.6 172.6 203.8 172.7 203.9 169.5 204.0 167.1 204.2 172.7 204.3 174.2 204.5 177.6 204.6 177.3 204.8 178.4 204.9 175.1 205.0 177.7 205.2 173.6 205.3 176.8 205.5 178.4 205.6 182.5 205.8 176.7 205.9 171.8 206.0 180.5 206.2 173.8 206.3 175.6 206.5 175.3 206.6 173.2 206.8 180.6 206.9 178.3 207.0 174.0 207.2 176.4 207.3 175.0 207.5 178.1 207.6 174.7 207.8 174.0 207.9 174.6 208.0 175.6 208.2 177.5 208.3 173.4 208.5 175.8 208.6 177.6 208.8 183.4 208.9 178.7 209.0 169.2 209.2 173.9 209.3 174.2 209.5 176.4 209.6 180.6 209.8 177.7 209.9 169.1 210.0 176.7 210.2 176.2 210.3 177.2 210.5 180.0 210.6 172.2 210.8 178.7 210.9 170.0 211.0 175.1 211.2 176.5 211.3 182.9 211.5 173.3 211.6 169.9 211.8 177.5 211.9 173.5 212.0 180.9 212.2 174.1 212.3 173.8 212.5 180.4 212.6 177.0 212.8 180.1 212.9 172.5 213.0 182.5 213.2 175.4 213.3 179.9 213.5 173.9 213.6 172.2 213.8 176.7 213.9 177.6 214.0 182.0 214.2 178.2 214.3 179.2 214.5 179.3 214.6 184.1 214.8 174.8 214.9 181.4 215.1 176.6 215.2 177.4 215.3 174.6 215.5 179.9 215.6 172.1 215.8 171.5 215.9 175.0 216.1 171.7 216.2 177.3 216.3 177.7 216.5 172.3 216.6 177.6 216.8 173.1 216.9 175.7 217.1 176.1 217.2 182.2 217.3 176.0 217.5 172.8 217.6 172.5 217.8 179.4 217.9 170.3 218.1 174.0 218.2 174.7 218.3 168.4 218.5 174.8 218.6 179.7 218.8 177.7 218.9 174.2 219.1 179.5 219.2 179.0 219.3 183.6 219.5 175.1 219.6 175.8 219.8 176.9 219.9 176.4 220.1 176.9 220.2 176.3 220.3 174.2 220.5 171.4 220.6 174.8 220.8 171.9 220.9 172.9 221.1 174.7 221.2 177.9 221.3 179.0 221.5 173.1 221.6 177.0 221.8 178.8 221.9 176.0 222.1 170.6 222.2 168.7 222.3 178.3 222.5 178.6 222.6 177.0 222.8 172.9 222.9 180.8 223.1 179.8 223.2 175.6 223.3 175.4 223.5 169.9 223.6 178.4 223.8 170.7 223.9 177.8 224.1 178.1 224.2 176.2 224.3 180.7 224.5 174.5 224.6 177.2 224.8 177.5 224.9 175.9 225.1 173.5 225.2 178.7 225.3 175.9 225.5 174.0 225.6 174.0 225.8 174.7 225.9 181.3 226.1 174.7 226.2 173.5 226.3 170.6 226.5 170.5 226.6 168.4 226.8 175.3 226.9 174.7 227.1 171.3 227.2 170.0 227.3 173.5 227.5 173.0 227.6 170.0 227.8 175.6 227.9 174.4 228.1 173.8 228.2 176.7 228.3 172.2 228.5 179.0 228.6 171.4 228.8 176.4 228.9 177.0 229.1 173.9 229.2 175.7 229.4 171.3 229.5 170.3 229.6 174.9 229.8 173.3 229.9 177.2 230.1 175.1 230.2 176.5 230.4 175.7 230.5 175.1 230.6 174.7 230.8 173.4 230.9 173.7 231.1 181.5 231.2 169.5 231.4 174.6 231.5 178.0 231.6 176.0 231.8 179.4 231.9 176.8 232.1 170.7 232.2 174.1 232.4 170.0 232.5 178.0 232.6 179.0 232.8 172.5 232.9 175.9 233.1 173.4 233.2 170.2 233.4 173.6 233.5 169.8 233.6 173.4 233.8 175.1 233.9 176.5 234.1 178.4 234.2 173.0 234.4 174.4 234.5 174.9 234.6 175.6 234.8 165.9 234.9 170.8 235.1 175.9 235.2 169.7 235.4 173.7 235.5 175.3 235.6 166.9 235.8 173.2 235.9 174.4 236.1 173.3 236.2 168.2 236.4 174.5 236.5 171.5 236.6 176.0 236.8 175.1 236.9 171.5 237.1 173.8 237.2 171.1 237.4 171.4 237.5 168.7 237.6 172.3 237.8 175.8 237.9 173.7 238.1 173.6 238.2 171.5 238.4 172.2 238.5 176.1 238.6 168.4 238.8 179.9 238.9 173.2 239.1 180.5 239.2 177.1 239.4 171.1 239.5 175.1 239.6 173.1 239.8 173.4 239.9 174.7 240.1 170.9 240.2 170.5 240.4 171.0 240.5 167.8 240.6 171.8 240.8 173.1 240.9 173.3 241.1 172.7 241.2 170.8 241.4 173.9 241.5 165.3 241.6 170.8 241.8 170.9 241.9 174.5 242.1 174.0 242.2 174.4 242.4 172.3 242.5 175.3 242.6 169.2 242.8 173.1 242.9 166.7 243.1 178.9 243.2 178.9 243.4 172.0 243.5 171.0 243.6 167.2 243.8 169.1 243.9 174.2 244.1 173.5 244.2 169.0 244.4 172.3 244.5 171.6 244.7 174.9 244.8 175.2 244.9 172.2 245.1 173.2 245.2 173.1 245.4 166.6 245.5 173.5 245.7 172.9 245.8 175.4 245.9 166.9 246.1 175.1 246.2 170.4 246.4 173.4 246.5 176.5 246.7 167.9 246.8 168.1 246.9 175.5 247.1 168.8 247.2 169.3 247.4 174.6 247.5 171.8 247.7 175.3 247.8 173.8 247.9 172.6 248.1 175.9 248.2 179.5 248.4 172.0 248.5 177.3 248.7 176.4 248.8 173.2 248.9 174.2 249.1 169.9 249.2 171.1 249.4 173.9 249.5 173.3 249.7 177.7 249.8 170.0 249.9 173.1 250.1 171.8 250.2 173.6 250.4 178.2 250.5 170.9 250.7 177.6 250.8 172.9 250.9 174.2 251.1 178.3 251.2 174.7 251.4 177.3 251.5 175.7 251.7 174.8 251.8 174.6 251.9 170.4 252.1 173.4 252.2 176.5 252.4 176.6 252.5 171.3 252.7 179.4 252.8 177.8 252.9 171.9 253.1 172.8 253.2 177.7 253.4 170.1 253.5 173.2 253.7 175.2 253.8 174.9 253.9 175.1 254.1 176.8 254.2 173.3 254.4 174.7 254.5 182.8 254.7 171.7 254.8 174.7 254.9 176.2 255.1 173.8 255.2 180.3 255.4 176.7 255.5 178.5 255.7 168.6 255.8 179.8 255.9 180.1 256.1 173.9 256.2 180.6 256.4 177.3 256.5 179.5 256.7 182.1 256.8 176.8 256.9 172.9 257.1 175.9 257.2 171.5 257.4 173.5 257.5 173.5 257.7 173.9 257.8 179.9 257.9 178.9 258.1 173.6 258.2 179.9 258.4 170.9 258.5 174.3 258.7 176.1 258.8 180.2 259.0 178.4 259.1 178.0 259.2 180.1 259.4 178.5 259.5 180.9 259.7 174.4 259.8 171.5 260.0 175.7 260.1 180.2 260.2 178.5 260.4 180.0 260.5 179.8 260.7 179.0 260.8 179.7 261.0 175.1 261.1 180.4 261.2 173.4 261.4 175.8 261.5 171.5 261.7 177.3 261.8 171.1 262.0 180.6 262.1 172.1 262.2 177.6 262.4 176.5 262.5 173.5 262.7 180.3 262.8 174.5 263.0 180.8 263.1 172.8 263.2 173.6 263.4 169.8 263.5 177.7 263.7 179.1 263.8 177.5 264.0 176.4 264.1 174.0 264.2 184.5 264.4 180.1 264.5 171.9 264.7 177.5 264.8 169.8 265.0 183.0 265.1 183.6 265.2 182.1 265.4 177.1 265.5 175.7 265.7 172.8 265.8 179.2 266.0 175.0 266.1 176.0 266.2 174.6 266.4 175.8 266.5 180.3 266.7 182.4 266.8 177.5 267.0 176.7 267.1 173.3 267.2 172.7 267.4 172.5 267.5 178.9 267.7 176.5 267.8 179.0 268.0 177.5 268.1 175.2 268.2 172.4 268.4 175.4 268.5 171.9 268.7 182.5 268.8 176.9 269.0 174.8 269.1 182.7 269.2 175.6 269.4 178.7 269.5 175.8 269.7 177.8 269.8 175.2 270.0 178.1 270.1 180.9 270.2 172.3 270.4 169.5 270.5 180.9 270.7 177.2 270.8 179.6 271.0 175.7 271.1 181.7 271.2 182.7 271.4 173.4 271.5 179.6 271.7 175.7 271.8 172.7 272.0 176.7 272.1 179.5 272.2 173.2 272.4 173.4 272.5 181.7 272.7 177.4 272.8 178.7 273.0 173.8 273.1 175.6 273.3 178.6 273.4 178.7 273.5 178.7 273.7 183.4 273.8 178.9 274.0 173.6 274.1 175.4 274.3 177.9 274.4 181.5 274.5 174.6 274.7 175.8 274.8 176.9 275.0 174.9 275.1 174.5 275.3 176.3 275.4 179.9 275.5 178.3 275.7 176.2 275.8 178.4 276.0 173.0 276.1 180.2 276.3 179.2 276.4 177.8 276.5 171.3 276.7 183.4 276.8 169.3 277.0 173.4 277.1 173.6 277.3 178.9 277.4 171.9 277.5 177.7 277.7 176.3 277.8 175.9 278.0 179.3 278.1 181.3 278.3 177.8 278.4 176.1 278.5 169.6 278.7 181.5 278.8 175.5 279.0 170.3 279.1 176.8 279.3 180.9 279.4 175.9 279.5 172.7 279.7 183.7 279.8 178.2 280.0 177.6 280.1 179.8 280.3 169.5 280.4 176.5" fill="none" stroke="#1f77b4" stroke-width="1.4" stroke-linejoin="miter" stroke-miterlimit="2"/>
<path d="M75.5 285.8 75.6 277.1 75.8 284.0 75.9 282.2 76.1 285.0 76.2 283.0 76.4 286.4 76.5 282.5 76.6 281.3 76.8 283.4 76.9 283.0 77.1 281.5 77.2 281.9 77.4 284.1 77.5 283.9 77.6 281.3 77.8 281.9 77.9 278.8 78.1 286.5 78.2 282.2 78.4 285.6 78.5 283.5 78.6 286.8 78.8 286.0 78.9 283.2 79.1 285.8 79.2 280.1 79.4 284.8 79.5 278.5 79.6 282.6 79.8 284.5 79.9 282.6 80.1 281.3 80.2 280.3 80.4 281.2 80.5 284.8 80.6 284.5 80.8 281.6 80.9 279.3 81.1 283.8 81.2 279.2 81.4 281.4 81.5 280.9 81.6 284.6 81.8 283.6 81.9 284.0 82.1 283.8 82.2 282.0 82.4 284.8 82.5 287.0 82.6 283.9 82.8 285.2 82.9 283.9 83.1 286.6 83.2 286.3 83.4 286.9 83.5 285.8 83.7 288.3 83.8 283.9 83.9 284.3 84.1 283.7 84.2 286.5 84.4 283.6 84.5 283.6 84.7 286.2 84.8 287.0 84.9 285.6 85.1 278.4 85.2 281.8 85.4 281.5 85.5 281.3 85.7 282.8 85.8 287.8 85.9 282.6 86.1 281.4 86.2 284.5 86.4 283.1 86.5 283.0 86.7 281.6 86.8 283.0 86.9 284.0 87.1 278.5 87.2 279.3 87.4 285.6 87.5 285.1 87.7 282.2 87.8 281.2 87.9 282.9 88.1 280.9 88.2 283.0 88.4 287.6 88.5 284.1 88.7 286.5 88.8 283.7 88.9 285.5 89.1 287.8 89.2 281.7 89.4 283.9 89.5 284.3 89.7 285.5 89.8 288.5 89.9 286.5 90.1 281.7 90.2 284.1 90.4 282.5 90.5 282.6 90.7 289.5 90.8 282.4 90.9 285.5 91.1 283.4 91.2 286.7 91.4 285.7 91.5 285.0 91.7 284.5 91.8 287.1 91.9 282.3 92.1 282.7 92.2 281.7 92.4 287.2 92.5 283.4 92.7 281.5 92.8 282.9 92.9 289.5 93.1 283.5 93.2 286.1 93.4 285.5 93.5 284.3 93.7 282.8 93.8 283.4 93.9 283.1 94.1 279.0 94.2 289.6 94.4 285.6 94.5 284.2 94.7 283.5 94.8 282.4 94.9 286.2 95.1 283.8 95.2 284.9 95.4 280.9 95.5 284.8 95.7 288.4 95.8 283.3 95.9 285.9 96.1 284.4 96.2 286.9 96.4 286.5 96.5 284.3 96.7 282.8 96.8 284.8 96.9 284.4 97.1 282.9 97.2 285.2 97.4 284.9 97.5 281.6 97.7 283.1 97.8 289.7 97.9 285.5 98.1 283.9 98.2 289.6 98.4 282.6 98.5 278.9 98.7 280.0 98.8 281.0 98.9 284.7 99.1 286.1 99.2 278.9 99.4 285.9 99.5 280.7 99.7 284.0 99.8 284.8 100.0 284.8 100.1 283.9 100.2 284.1 100.4 281.6 100.5 285.0 100.7 286.7 100.8 286.3 101.0 289.7 101.1 286.7 101.2 285.9 101.4 288.0 101.5 284.8 101.7 281.3 101.8 279.1 102.0 287.2 102.1 286.0 102.2 286.6 102.4 284.4 102.5 285.9 102.7 289.3 102.8 285.7 103.0 282.1 103.1 283.5 103.2 287.8 103.4 281.9 103.5 278.8 103.7 278.8 103.8 281.1 104.0 286.0 104.1 284.2 104.2 282.2 104.4 281.1 104.5 283.8 104.7 283.7 104.8 282.8 105.0 283.4 105.1 281.9 105.2 287.9 105.4 278.8 105.5 284.3 105.7 281.6 105.8 285.5 106.0 283.5 106.1 284.8 106.2 284.9 106.4 284.4 106.5 286.4 106.7 281.2 106.8 286.5 107.0 284.0 107.1 285.6 107.2 288.3 107.4 287.5 107.5 289.3 107.7 279.6 107.8 282.5 108.0 286.7 108.1 282.4 108.2 284.4 108.4 288.7 108.5 286.5 108.7 282.5 108.8 285.5 109.0 286.0 109.1 284.9 109.2 284.6 109.4 285.0 109.5 280.9 109.7 284.5 109.8 281.8 110.0 284.8 110.1 284.6 110.2 281.3 110.4 284.7 110.5 284.4 110.7 283.6 110.8 285.6 111.0 283.4 111.1 283.2 111.2 284.0 111.4 283.4 111.5 286.3 111.7 278.6 111.8 283.4 112.0 279.7 112.1 283.1 112.2 284.8 112.4 284.4 112.5 286.8 112.7 285.7 112.8 278.9 113.0 282.7 113.1 288.6 113.2 288.9 113.4 285.5 113.5 281.5 113.7 289.2 113.8 279.4 114.0 284.8 114.1 284.0 114.2 284.7 114.4 281.6 114.5 283.4 114.7 286.6 114.8 282.9 115.0 280.7 115.1 283.7 115.3 283.7 115.4 282.9 115.5 281.3 115.7 284.0 115.8 282.5 116.0 280.0 116.1 283.1 116.3 282.3 116.4 282.7 116.5 278.6 116.7 280.8 116.8 283.8 117.0 284.7 117.1 283.9 117.3 283.7 117.4 284.9 117.5 285.3 117.7 286.9 117.8 284.1 118.0 281.8 118.1 284.4 118.3 279.1 118.4 284.2 118.5 282.8 118.7 284.0 118.8 285.1 119.0 284.3 119.1 281.0 119.3 283.6 119.4 282.6 119.5 284.2 119.7 284.7 119.8 281.8 120.0 285.5 120.1 286.5 120.3 283.1 120.4 285.6 120.5 280.6 120.7 282.8 120.8 286.2 121.0 280.1 121.1 283.0 121.3 282.0 121.4 286.3 121.5 286.3 121.7 282.7 121.8 284.2 122.0 278.1 122.1 285.8 122.3 284.6 122.4 286.5 122.5 278.0 122.7 284.3 122.8 282.8 123.0 277.8 123.1 282.0 123.3 282.9 123.4 285.1 123.5 283.5 123.7 282.3 123.8 284.2 124.0 282.7 124.1 281.3 124.3 280.6 124.4 283.4 124.5 283.8 124.7 287.2 124.8 282.0 125.0 286.5 125.1 283.7 125.3 285.7 125.4 281.2 125.5 281.4 125.7 282.6 125.8 285.4 126.0 284.0 126.1 285.2 126.3 284.5 126.4 285.8 126.5 284.1 126.7 282.1 126.8 284.4 127.0 283.2 127.1 286.7 127.3 282.3 127.4 282.7 127.5 281.6 127.7 285.1 127.8 284.6 128.0 284.4 128.1 280.2 128.3 279.2 128.4 283.2 128.5 284.4 128.7 286.3 128.8 278.8 129.0 282.4 129.1 278.9 129.3 280.3 129.4 282.0 129.5 284.6 129.7 281.1 129.8 280.9 130.0 282.1 130.1 285.9 130.3 288.4 130.4 279.9 130.5 282.9 130.7 282.6 130.8 286.0 131.0 284.5 131.1 287.0 131.3 281.4 131.4 283.5 131.6 282.2 131.7 280.7 131.8 282.9 132.0 280.5 132.1 288.3 132.3 284.2 132.4 280.6 132.6 281.5 132.7 287.1 132.8 282.0 133.0 284.6 133.1 284.4 133.3 285.8 133.4 284.6 133.6 282.6 133.7 281.7 133.8 279.3 134.0 282.9 134.1 283.4 134.3 282.3 134.4 283.0 134.6 280.9 134.7 288.5 134.8 282.3 135.0 281.3 135.1 282.1 135.3 283.3 135.4 285.5 135.6 278.4 135.7 284.7 135.8 282.1 136.0 283.1 136.1 285.6 136.3 285.0 136.4 281.8 136.6 283.0 136.7 287.1 136.8 285.9 137.0 284.8 137.1 282.9 137.3 285.1 137.4 283.9 137.6 281.8 137.7 280.9 137.8 284.3 138.0 284.1 138.1 286.3 138.3 282.5 138.4 286.8 138.6 283.1 138.7 286.5 138.8 284.7 139.0 282.3 139.1 281.6 139.3 283.6 139.4 283.0 139.6 286.0 139.7 282.0 139.8 280.3 140.0 283.9 140.1 288.5 140.3 288.0 140.4 282.8 140.6 283.3 140.7 284.8 140.8 282.6 141.0 283.3 141.1 283.2 141.3 281.6 141.4 282.6 141.6 282.8 141.7 284.9 141.8 281.6 142.0 284.6 142.1 281.9 142.3 282.1 142.4 281.4 142.6 289.6 142.7 287.2 142.8 287.7 143.0 286.0 143.1 283.4 143.3 283.9 143.4 284.4 143.6 285.0 143.7 285.3 143.8 287.1 144.0 278.9 144.1 282.2 144.3 284.9 144.4 282.9 144.6 283.6 144.7 287.0 144.8 284.3 145.0 287.8 145.1 284.1 145.3 285.1 145.4 282.2 145.6 280.1 145.7 283.6 145.8 284.4 146.0 283.5 146.1 281.2 146.3 285.8 146.4 284.5 146.6 284.1 146.7 282.4 146.9 288.2 147.0 287.8 147.1 285.6 147.3 284.8 147.4 285.3 147.6 288.6 147.7 290.1 147.9 284.9 148.0 283.7 148.1 280.4 148.3 290.1 148.4 281.9 148.6 286.4 148.7 285.6 148.9 287.6 149.0 282.6 149.1 281.0 149.3 284.9 149.4 285.5 149.6 287.3 149.7 280.9 149.9 283.7 150.0 284.1 150.1 281.2 150.3 283.7 150.4 286.2 150.6 284.3 150.7 281.2 150.9 285.2 151.0 286.5 151.1 285.7 151.3 286.3 151.4 280.8 151.6 285.6 151.7 286.0 151.9 284.1 152.0 285.1 152.1 283.4 152.3 287.9 152.4 284.8 152.6 283.3 152.7 286.0 152.9 285.6 153.0 287.2 153.1 283.8 153.3 284.2 153.4 286.4 153.6 290.6 153.7 286.5 153.9 282.3 154.0 285.7 154.1 283.3 154.3 280.9 154.4 283.5 154.6 283.9 154.7 286.2 154.9 287.9 155.0 287.5 155.1 286.7 155.3 283.9 155.4 285.2 155.6 284.7 155.7 287.7 155.9 283.2 156.0 283.5 156.1 288.3 156.3 286.2 156.4 284.0 156.6 285.6 156.7 285.9 156.9 285.8 157.0 287.1 157.1 286.5 157.3 285.2 157.4 284.1 157.6 281.5 157.7 284.3 157.9 287.8 158.0 285.3 158.1 283.6 158.3 284.6 158.4 283.3 158.6 285.8 158.7 289.9 158.9 289.3 159.0 287.9 159.1 287.1 159.3 285.2 159.4 282.9 159.6 285.6 159.7 284.3 159.9 287.4 160.0 285.7 160.1 284.1 160.3 286.4 160.4 291.2 160.6 283.4 160.7 288.2 160.9 287.2 161.0 286.1 161.1 284.8 161.3 286.5 161.4 286.9 161.6 288.3 161.7 287.7 161.9 287.0 162.0 284.7 162.1 286.7 162.3 284.8 162.4 283.4 162.6 287.5 162.7 284.2 162.9 283.1 163.0 286.1 163.2 281.4 163.3 285.9 163.4 287.0 163.6 285.0 163.7 286.6 163.9 291.0 164.0 289.2 164.2 287.8 164.3 286.9 164.4 284.5 164.6 285.4 164.7 285.0 164.9 285.7 165.0 285.9 165.2 283.9 165.3 289.1 165.4 283.2 165.6 286.6 165.7 288.0 165.9 285.2 166.0 284.0 166.2 285.4 166.3 289.9 166.4 287.0 166.6 284.9 166.7 286.8 166.9 285.0 167.0 281.1 167.2 286.0 167.3 287.7 167.4 287.7 167.6 285.3 167.7 282.6 167.9 288.5 168.0 285.4 168.2 287.6 168.3 288.8 168.4 286.9 168.6 286.0 168.7 284.7 168.9 285.6 169.0 286.5 169.2 285.6 169.3 287.2 169.4 282.2 169.6 284.3 169.7 286.6 169.9 285.1 170.0 285.3 170.2 284.0 170.3 288.0 170.4 290.1 170.6 284.1 170.7 289.0 170.9 283.1 171.0 286.9 171.2 281.8 171.3 287.4 171.4 286.2 171.6 286.6 171.7 289.4 171.9 287.9 172.0 286.4 172.2 284.7 172.3 286.7 172.4 284.8 172.6 285.3 172.7 289.6 172.9 288.2 173.0 287.3 173.2 288.0 173.3 283.5 173.4 287.1 173.6 283.1 173.7 285.0 173.9 287.2 174.0 287.1 174.2 288.2 174.3 286.9 174.4 287.1 174.6 286.9 174.7 289.9 174.9 289.9 175.0 283.7 175.2 287.2 175.3 290.0 175.4 286.6 175.6 287.7 175.7 285.8 175.9 284.4 176.0 287.0 176.2 285.9 176.3 286.3 176.4 283.4 176.6 284.0 176.7 286.4 176.9 285.9 177.0 288.1 177.2 284.4 177.3 288.5 177.4 287.9 177.6 287.2 177.7 288.1 177.9 286.1 178.0 285.8 178.2 286.1 178.3 283.3 178.5 286.1 178.6 288.3 178.7 282.8 178.9 287.8 179.0 285.0 179.2 285.7 179.3 286.6 179.5 287.0 179.6 289.3 179.7 285.9 179.9 290.3 180.0 286.3 180.2 287.0 180.3 287.3 180.5 284.1 180.6 282.9 180.7 285.7 180.9 287.4 181.0 287.9 181.2 285.3 181.3 290.0 181.5 286.0 181.6 284.4 181.7 288.6 181.9 288.6 182.0 283.8 182.2 287.4 182.3 282.7 182.5 285.8 182.6 291.1 182.7 288.9 182.9 287.7 183.0 288.0 183.2 284.9 183.3 287.5 183.5 287.8 183.6 284.4 183.7 287.3 183.9 287.8 184.0 287.3 184.2 287.6 184.3 286.0 184.5 283.9 184.6 286.6 184.7 282.3 184.9 285.4 185.0 289.2 185.2 290.8 185.3 287.5 185.5 281.2 185.6 289.4 185.7 287.8 185.9 286.0 186.0 287.8 186.2 287.2 186.3 283.3 186.5 283.2 186.6 288.2 186.7 281.1 186.9 287.1 187.0 286.3 187.2 288.0 187.3 289.6 187.5 288.7 187.6 289.3 187.7 287.4 187.9 286.9 188.0 288.5 188.2 286.2 188.3 284.3 188.5 286.3 188.6 282.9 188.7 285.3 188.9 291.4 189.0 287.9 189.2 286.7 189.3 285.9 189.5 283.1 189.6 285.9 189.7 285.6 189.9 287.4 190.0 287.4 190.2 286.7 190.3 282.8 190.5 290.2 190.6 287.7 190.7 286.8 190.9 285.9 191.0 287.7 191.2 289.6 191.3 288.2 191.5 284.1 191.6 283.8 191.7 281.1 191.9 286.5 192.0 288.0 192.2 288.9 192.3 286.4 192.5 287.8 192.6 284.0 192.7 287.3 192.9 286.0 193.0 285.0 193.2 283.0 193.3 288.9 193.5 281.3 193.6 287.8 193.8 284.8 193.9 288.0 194.0 285.2 194.2 287.9 194.3 285.5 194.5 283.8 194.6 284.8 194.8 282.6 194.9 286.5 195.0 287.7 195.2 286.4 195.3 285.8 195.5 288.7 195.6 283.2 195.8 286.7 195.9 285.3 196.0 284.2 196.2 286.8 196.3 283.5 196.5 285.8 196.6 286.9 196.8 283.3 196.9 285.3 197.0 287.1 197.2 288.3 197.3 284.1 197.5 287.9 197.6 285.3 197.8 286.0 197.9 284.7 198.0 288.0 198.2 284.6 198.3 287.1 198.5 287.2 198.6 287.9 198.8 283.8 198.9 287.6 199.0 285.9 199.2 289.1 199.3 284.8 199.5 284.3 199.6 285.7 199.8 285.0 199.9 285.3 200.0 283.0 200.2 281.1 200.3 282.6 200.5 284.6 200.6 286.7 200.8 285.2 200.9 283.7 201.0 285.6 201.2 286.1 201.3 290.9 201.5 288.5 201.6 286.2 201.8 282.4 201.9 285.3 202.0 285.0 202.2 286.9 202.3 290.6 202.5 285.7 202.6 281.5 202.8 285.8 202.9 282.2 203.0 287.9 203.2 288.3 203.3 286.6 203.5 282.5 203.6 285.5 203.8 288.3 203.9 283.5 204.0 284.5 204.2 286.4 204.3 286.9 204.5 286.0 204.6 286.4 204.8 286.1 204.9 284.4 205.0 285.7 205.2 286.4 205.3 283.0 205.5 285.8 205.6 285.5 205.8 286.2 205.9 285.9 206.0 282.6 206.2 282.1 206.3 285.4 206.5 284.5 206.6 285.1 206.8 283.5 206.9 281.5 207.0 284.8 207.2 283.8 207.3 285.4 207.5 286.4 207.6 286.4 207.8 286.5 207.9 282.4 208.0 279.4 208.2 282.6 208.3 281.3 208.5 281.1 208.6 285.6 208.8 280.6 208.9 286.2 209.0 286.7 209.2 290.1 209.3 286.9 209.5 289.6 209.6 283.2 209.8 283.4 209.9 287.1 210.1 281.9 210.2 287.5 210.3 284.4 210.5 280.5 210.6 289.0 210.8 282.1 210.9 289.9 211.1 281.4 211.2 282.7 211.3 285.2 211.5 285.0 211.6 281.3 211.8 285.0 211.9 285.4 212.1 286.0 212.2 281.1 212.3 283.0 212.5 283.8 212.6 285.8 212.8 284.5 212.9 283.5 213.1 283.5 213.2 287.8 213.3 282.6 213.5 285.2 213.6 279.8 213.8 288.5 213.9 285.6 214.1 280.6 214.2 286.0 214.3 287.5 214.5 286.3 214.6 284.6 214.8 286.3 214.9 282.5 215.1 283.5 215.2 283.4 215.3 284.3 215.5 282.0 215.6 287.5 215.8 284.1 215.9 281.9 216.1 283.8 216.2 285.3 216.3 284.4 216.5 286.9 216.6 283.7 216.8 282.8 216.9 285.4 217.1 287.0 217.2 281.9 217.3 280.5 217.5 282.4 217.6 283.5 217.8 281.1 217.9 284.1 218.1 281.8 218.2 285.6 218.3 281.0 218.5 281.6 218.6 283.7 218.8 285.1 218.9 285.6 219.1 282.1 219.2 283.3 219.3 284.8 219.5 286.9 219.6 281.4 219.8 280.9 219.9 285.2 220.1 283.6 220.2 287.3 220.3 284.4 220.5 285.2 220.6 282.8 220.8 285.2 220.9 287.0 221.1 283.7 221.2 281.4 221.3 286.0 221.5 283.3 221.6 284.2 221.8 282.4 221.9 286.1 222.1 282.0 222.2 283.1 222.3 284.0 222.5 283.0 222.6 278.7 222.8 284.7 222.9 280.8 223.1 284.2 223.2 282.6 223.3 283.0 223.5 281.5 223.6 281.0 223.8 283.8 223.9 284.2 224.1 286.1 224.2 285.2 224.3 282.3 224.5 286.6 224.6 288.8 224.8 285.4 224.9 283.5 225.1 282.0 225.2 283.9 225.4 280.8 225.5 285.8 225.6 282.7 225.8 282.5 225.9 284.4 226.1 280.9 226.2 279.5 226.4 282.7 226.5 286.7 226.6 282.1 226.8 285.8 226.9 279.5 227.1 283.3 227.2 284.8 227.4 287.8 227.5 279.6 227.6 283.4 227.8 281.5 227.9 283.9 228.1 281.9 228.2 283.8 228.4 281.9 228.5 282.3 228.6 284.7 228.8 286.9 228.9 284.0 229.1 284.0 229.2 282.7 229.4 287.2 229.5 279.0 229.6 278.7 229.8 281.3 229.9 284.1 230.1 285.3 230.2 284.3 230.4 284.6 230.5 283.4 230.6 282.2 230.8 280.7 230.9 284.1 231.1 280.9 231.2 284.0 231.4 284.7 231.5 281.6 231.6 281.8 231.8 281.8 231.9 284.6 232.1 283.2 232.2 281.4 232.4 283.5 232.5 286.2 232.6 283.6 232.8 283.5 232.9 282.5 233.1 281.5 233.2 283.7 233.4 283.8 233.5 283.0 233.6 286.1 233.8 283.1 233.9 283.4 234.1 284.3 234.2 284.9 234.4 279.6 234.5 284.5 234.6 286.8 234.8 281.3 234.9 284.5 235.1 282.3 235.2 281.2 235.4 284.2 235.5 283.4 235.6 278.6 235.8 281.9 235.9 284.9 236.1 281.9 236.2 281.4 236.4 282.2 236.5 282.2 236.6 284.8 236.8 281.1 236.9 280.6 237.1 283.7 237.2 284.9 237.4 284.7 237.5 284.9 237.6 281.8 237.8 279.9 237.9 281.5 238.1 283.1 238.2 279.3 238.4 282.5 238.5 284.1 238.6 281.4 238.8 287.2 238.9 284.2 239.1 279.7 239.2 279.8 239.4 280.6 239.5 283.6 239.6 283.4 239.8 281.0 239.9 282.4 240.1 284.1 240.2 283.4 240.4 278.4 240.5 279.6 240.6 279.9 240.8 278.3 240.9 284.2 241.1 280.9 241.2 281.1 241.4 280.6 241.5 283.6 241.7 284.3 241.8 284.7 241.9 285.9 242.1 281.0 242.2 286.7 242.4 288.0 242.5 281.9 242.7 282.3 242.8 284.5 242.9 286.0 243.1 282.6 243.2 281.3 243.4 287.7 243.5 281.8 243.7 277.2 243.8 284.4 243.9 285.4 244.1 286.8 244.2 286.8 244.4 287.9 244.5 281.8 244.7 280.8 244.8 279.6 244.9 286.7 245.1 282.0 245.2 279.3 245.4 278.3 245.5 283.5 245.7 281.8 245.8 283.3 245.9 280.5 246.1 280.8 246.2 283.5 246.4 282.0 246.5 283.4 246.7 281.6 246.8 281.0 246.9 282.6 247.1 281.3 247.2 282.3 247.4 282.6 247.5 280.6 247.7 281.5 247.8 281.8 247.9 282.8 248.1 281.9 248.2 281.8 248.4 282.5 248.5 280.7 248.7 282.6 248.8 280.3 248.9 277.8 249.1 283.0 249.2 277.7 249.4 281.7 249.5 285.8 249.7 284.0 249.8 280.2 249.9 284.2 250.1 283.0 250.2 280.5 250.4 282.0 250.5 280.9 250.7 281.3 250.8 282.8 250.9 278.8 251.1 284.3 251.2 286.9 251.4 281.9 251.5 279.8 251.7 281.1 251.8 284.8 251.9 281.1 252.1 283.2 252.2 287.4 252.4 280.8 252.5 282.8 252.7 281.0 252.8 281.5 252.9 282.4 253.1 280.4 253.2 283.3 253.4 282.7 253.5 284.9 253.7 283.9 253.8 283.2 253.9 285.8 254.1 282.1 254.2 283.8 254.4 280.8 254.5 285.8 254.7 280.7 254.8 284.4 254.9 280.7 255.1 282.7 255.2 279.4 255.4 280.3 255.5 279.6 255.7 282.5 255.8 282.4 255.9 282.5 256.1 281.6 256.2 280.1 256.4 282.2 256.5 284.1 256.7 280.0 256.8 279.5 257.0 282.4 257.1 285.6 257.2 280.9 257.4 280.4 257.5 279.0 257.7 279.9 257.8 279.5 258.0 279.1 258.1 283.8 258.2 284.5 258.4 281.8 258.5 282.0 258.7 283.8 258.8 282.2 259.0 282.7 259.1 283.7 259.2 282.4 259.4 285.4 259.5 287.4 259.7 282.4 259.8 283.0 260.0 280.4 260.1 281.3 260.2 282.6 260.4 283.3 260.5 281.8 260.7 279.7 260.8 283.2 261.0 281.3 261.1 283.1 261.2 281.9 261.4 282.0 261.5 281.8 261.7 276.9 261.8 284.3 262.0 279.9 262.1 282.8 262.2 283.2 262.4 280.7 262.5 278.8 262.7 283.2 262.8 279.7 263.0 281.5 263.1 282.6 263.2 280.6 263.4 278.3 263.5 280.4 263.7 283.3 263.8 280.5 264.0 284.2 264.1 279.1 264.2 280.3 264.4 278.6 264.5 280.4 264.7 285.9 264.8 284.2 265.0 282.4 265.1 281.2 265.2 285.2 265.4 282.4 265.5 280.3 265.7 285.7 265.8 279.0 266.0 282.8 266.1 283.8 266.2 284.5 266.4 286.5 266.5 284.4 266.7 280.6 266.8 284.6 267.0 282.8 267.1 279.2 267.2 279.5 267.4 280.0 267.5 277.0 267.7 283.2 267.8 282.9 268.0 282.6 268.1 279.8 268.2 281.2 268.4 283.9 268.5 281.8 268.7 280.7 268.8 279.6 269.0 280.9 269.1 284.0 269.2 281.3 269.4 286.3 269.5 286.4 269.7 282.6 269.8 277.3 270.0 280.2 270.1 283.7 270.2 279.7 270.4 279.2 270.5 280.8 270.7 286.7 270.8 279.9 271.0 276.3 271.1 281.3 271.2 281.9 271.4 282.8 271.5 281.4 271.7 282.0 271.8 279.8 272.0 283.2 272.1 281.0 272.2 282.3 272.4 279.5 272.5 284.5 272.7 281.8 272.8 280.3 273.0 281.4 273.1 278.7 273.3 279.5 273.4 282.9 273.5 282.6 273.7 283.4 273.8 283.0 274.0 281.0 274.1 281.8 274.3 285.6 274.4 280.9 274.5 277.9 274.7 281.2 274.8 280.8 275.0 281.2 275.1 281.3 275.3 278.9 275.4 282.2 275.5 280.9 275.7 282.5 275.8 279.5 276.0 278.9 276.1 280.4 276.3 285.4 276.4 277.7 276.5 284.0 276.7 281.3 276.8 284.0 277.0 280.7 277.1 282.5 277.3 282.6 277.4 286.5 277.5 281.3 277.7 282.0 277.8 279.6 278.0 282.1 278.1 279.7 278.3 281.1 278.4 282.4 278.5 282.6 278.7 279.5 278.8 279.8 279.0 284.0 279.1 280.1 279.3 281.7 279.4 280.5 279.5 277.6 279.7 280.9 279.8 281.0 280.0 285.0 280.1 276.7 280.3 279.7 280.4 282.3" fill="none" stroke="#2ca02c" stroke-width="1.4" stroke-linejoin="miter" stroke-miterlimit="2"/>
<path d="M433.5 82.0 433.6 85.5 433.8 96.7 433.9 90.8 434.1 76.3 434.2 86.9 434.4 83.1 434.5 88.2 434.6 76.7 434.8 88.2 434.9 88.1 435.1 96.1 435.2 87.9 435.4 88.9 435.5 76.4 435.6 99.3 435.8 73.1 435.9 92.1 436.1 83.4 436.2 79.8 436.4 81.3 436.5 81.7 436.6 87.2 436.8 84.9 436.9 94.6 437.1 73.8 437.2 84.1 437.4 78.3 437.5 87.8 437.6 70.4 437.8 81.4 437.9 85.3 438.1 74.4 438.2 89.1 438.4 84.4 438.5 89.2 438.6 89.5 438.8 77.9 438.9 79.0 439.1 83.1 439.2 89.8 439.4 90.6 439.5 80.9 439.6 81.9 439.8 80.2 439.9 81.3 440.1 84.0 440.2 85.1 440.4 98.9 440.5 83.3 440.6 85.4 440.8 90.1 440.9 81.2 441.1 85.2 441.2 87.1 441.4 91.5 441.5 78.5 441.6 94.2 441.8 82.3 441.9 85.8 442.1 89.9 442.2 87.8 442.4 91.1 442.5 86.0 442.6 84.2 442.8 87.2 442.9 78.2 443.1 91.5 443.2 79.1 443.4 75.4 443.5 96.1 443.6 81.1 443.8 74.4 443.9 93.9 444.1 80.5 444.2 89.9 444.4 78.2 444.5 81.4 444.7 73.5 444.8 72.8 444.9 78.8 445.1 84.4 445.2 89.9 445.4 99.2 445.5 77.6 445.7 90.7 445.8 80.4 445.9 83.9 446.1 75.0 446.2 75.2 446.4 79.7 446.5 77.3 446.7 85.2 446.8 80.6 446.9 92.3 447.1 85.1 447.2 84.5 447.4 90.4 447.5 87.0 447.7 82.8 447.8 82.3 447.9 81.9 448.1 89.9 448.2 87.8 448.4 86.0 448.5 88.7 448.7 80.4 448.8 86.9 448.9 75.2 449.1 93.1 449.2 86.4 449.4 87.4 449.5 89.9 449.7 86.5 449.8 85.0 449.9 94.0 450.1 87.6 450.2 81.3 450.4 88.9 450.5 76.0 450.7 97.2 450.8 85.3 450.9 86.0 451.1 99.5 451.2 98.9 451.4 85.4 451.5 88.8 451.7 91.8 451.8 95.7 451.9 83.8 452.1 85.1 452.2 90.6 452.4 85.2 452.5 87.8 452.7 86.6 452.8 76.3 452.9 78.0 453.1 70.1 453.2 81.5 453.4 91.9 453.5 76.1 453.7 90.3 453.8 89.2 453.9 83.0 454.1 82.7 454.2 84.2 454.4 77.9 454.5 81.2 454.7 82.7 454.8 86.5 454.9 87.8 455.1 78.4 455.2 89.0 455.4 79.2 455.5 83.1 455.7 86.6 455.8 83.4 455.9 82.5 456.1 84.3 456.2 78.3 456.4 77.9 456.5 81.0 456.7 88.4 456.8 81.8 456.9 94.1 457.1 84.3 457.2 67.8 457.4 79.5 457.5 92.7 457.7 81.7 457.8 78.5 457.9 75.7 458.1 88.9 458.2 86.3 458.4 83.8 458.5 82.3 458.7 88.8 458.8 84.9 458.9 72.7 459.1 86.5 459.2 82.2 459.4 80.5 459.5 86.5 459.7 82.2 459.8 66.4 459.9 91.2 460.1 87.4 460.2 80.3 460.4 78.7 460.5 82.2 460.7 72.9 460.8 83.2 460.9 79.7 461.1 79.0 461.2 75.6 461.4 76.7 461.5 88.1 461.7 88.9 461.8 84.1 461.9 80.5 462.1 75.0 462.2 85.8 462.4 91.5 462.5 70.6 462.7 87.1 462.8 66.7 462.9 77.8 463.1 82.4 463.2 71.5 463.4 70.3 463.5 80.6 463.7 85.1 463.8 76.9 463.9 88.1 464.1 74.9 464.2 90.4 464.4 79.8 464.5 79.7 464.7 82.3 464.8 79.5 465.0 89.6 465.1 91.3 465.2 79.9 465.4 75.1 465.5 69.8 465.7 72.6 465.8 77.0 466.0 76.2 466.1 76.6 466.2 76.9 466.4 79.4 466.5 67.8 466.7 69.2 466.8 81.8 467.0 79.4 467.1 71.3 467.2 83.0 467.4 71.3 467.5 73.9 467.7 64.2 467.8 81.1 468.0 75.4 468.1 82.4 468.2 80.3 468.4 77.0 468.5 76.9 468.7 82.9 468.8 75.2 469.0 75.7 469.1 76.9 469.2 81.5 469.4 82.3 469.5 88.9 469.7 76.7 469.8 85.3 470.0 73.9 470.1 81.4 470.2 78.1 470.4 87.5 470.5 81.1 470.7 74.1 470.8 80.6 471.0 78.9 471.1 74.2 471.2 74.2 471.4 69.7 471.5 90.9 471.7 75.8 471.8 80.5 472.0 67.6 472.1 68.2 472.2 74.2 472.4 74.2 472.5 79.4 472.7 68.2 472.8 78.4 473.0 83.5 473.1 68.1 473.2 79.4 473.4 67.9 473.5 75.4 473.7 76.1 473.8 83.9 474.0 69.0 474.1 75.1 474.2 79.9 474.4 66.1 474.5 72.6 474.7 67.2 474.8 68.7 475.0 75.8 475.1 76.0 475.2 87.9 475.4 80.8 475.5 80.5 475.7 71.5 475.8 69.9 476.0 73.1 476.1 58.4 476.2 81.7 476.4 66.9 476.5 63.8 476.7 67.4 476.8 75.9 477.0 78.0 477.1 67.8 477.2 73.1 477.4 70.8 477.5 65.3 477.7 73.1 477.8 72.3 478.0 62.9 478.1 79.2 478.2 62.0 478.4 73.1 478.5 65.1 478.7 66.9 478.8 67.7 479.0 75.7 479.1 63.4 479.2 70.7 479.4 81.6 479.5 68.5 479.7 72.3 479.8 76.2 480.0 68.7 480.1 74.7 480.2 67.4 480.4 76.0 480.5 71.7 480.7 65.4 480.8 78.8 481.0 70.1 481.1 68.2 481.2 64.3 481.4 67.3 481.5 69.5 481.7 70.9 481.8 76.4 482.0 60.9 482.1 67.0 482.2 75.9 482.4 69.3 482.5 71.1 482.7 78.2 482.8 70.1 483.0 70.7 483.1 67.9 483.2 79.6 483.4 74.2 483.5 63.2 483.7 71.1 483.8 60.8 484.0 74.5 484.1 72.1 484.2 67.2 484.4 65.4 484.5 57.0 484.7 73.0 484.8 67.8 485.0 67.3 485.1 73.1 485.3 65.4 485.4 65.1 485.5 64.1 485.7 60.0 485.8 82.0 486.0 67.0 486.1 65.6 486.3 72.8 486.4 52.3 486.5 67.8 486.7 67.8 486.8 62.5 487.0 71.5 487.1 56.4 487.3 68.9 487.4 73.9 487.5 54.9 487.7 59.6 487.8 66.4 488.0 66.5 488.1 63.8 488.3 69.6 488.4 70.2 488.5 60.5 488.7 68.0 488.8 61.2 489.0 56.0 489.1 54.2 489.3 75.6 489.4 68.4 489.5 80.4 489.7 59.4 489.8 65.7 490.0 70.1 490.1 66.9 490.3 70.5 490.4 68.2 490.5 62.6 490.7 50.9 490.8 59.7 491.0 76.0 491.1 69.5 491.3 72.9 491.4 59.4 491.5 61.7 491.7 57.0 491.8 65.1 492.0 63.2 492.1 65.2 492.3 72.7 492.4 57.2 492.5 67.4 492.7 54.5 492.8 70.4 493.0 60.5 493.1 63.0 493.3 64.3 493.4 74.1 493.5 63.9 493.7 62.0 493.8 58.2 494.0 67.2 494.1 59.7 494.3 62.7 494.4 65.8 494.5 69.9 494.7 61.7 494.8 69.7 495.0 76.9 495.1 56.9 495.3 74.5 495.4 77.8 495.5 60.4 495.7 68.1 495.8 54.7 496.0 65.3 496.1 61.0 496.3 64.9 496.4 57.4 496.5 58.0 496.7 60.5 496.8 58.2 497.0 58.7 497.1 61.6 497.3 55.5 497.4 61.4 497.5 65.2 497.7 48.3 497.8 63.2 498.0 56.8 498.1 54.2 498.3 53.2 498.4 56.6 498.5 57.7 498.7 63.9 498.8 54.9 499.0 69.1 499.1 57.9 499.3 66.2 499.4 69.7 499.5 54.7 499.7 68.2 499.8 75.5 500.0 59.4 500.1 65.8 500.3 62.0 500.4 64.1 500.5 63.1 500.7 60.7 500.8 68.3 501.0 68.2 501.1 63.2 501.3 72.2 501.4 69.4 501.5 66.8 501.7 57.9 501.8 72.8 502.0 69.4 502.1 47.7 502.3 54.1 502.4 56.5 502.5 65.5 502.7 67.3 502.8 58.1 503.0 61.2 503.1 64.3 503.3 51.8 503.4 62.1 503.5 55.6 503.7 58.6 503.8 57.1 504.0 51.2 504.1 52.3 504.3 59.1 504.4 59.9 504.5 57.8 504.7 66.7 504.8 58.2 505.0 52.8 505.1 58.1 505.3 59.2 505.4 60.7 505.6 69.3 505.7 65.4 505.8 68.9 506.0 65.8 506.1 60.9 506.3 68.4 506.4 60.3 506.6 63.5 506.7 55.4 506.8 62.4 507.0 59.2 507.1 63.5 507.3 71.5 507.4 74.0 507.6 66.0 507.7 58.9 507.8 64.6 508.0 60.5 508.1 55.0 508.3 58.0 508.4 56.5 508.6 53.9 508.7 65.9 508.8 54.5 509.0 55.3 509.1 62.9 509.3 54.0 509.4 51.4 509.6 52.8 509.7 60.8 509.8 60.1 510.0 60.3 510.1 55.3 510.3 53.0 510.4 64.6 510.6 50.5 510.7 58.9 510.8 50.9 511.0 56.8 511.1 58.2 511.3 66.8 511.4 43.9 511.6 68.2 511.7 54.3 511.8 61.5 512.0 65.1 512.1 55.3 512.3 58.9 512.4 61.9 512.6 58.7 512.7 55.2 512.8 61.2 513.0 59.7 513.1 50.4 513.3 67.8 513.4 60.5 513.6 43.5 513.7 51.9 513.8 67.2 514.0 67.0 514.1 59.1 514.3 47.9 514.4 55.8 514.6 64.0 514.7 60.5 514.8 55.2 515.0 52.0 515.1 61.1 515.3 54.4 515.4 58.1 515.6 57.5 515.7 64.7 515.8 55.5 516.0 56.6 516.1 44.0 516.3 62.6 516.4 61.0 516.6 55.7 516.7 42.8 516.8 54.2 517.0 58.0 517.1 69.9 517.3 60.0 517.4 62.8 517.6 63.0 517.7 65.6 517.8 50.9 518.0 53.9 518.1 52.6 518.3 58.1 518.4 57.2 518.6 60.6 518.7 54.5 518.8 61.5 519.0 55.4 519.1 72.1 519.3 55.2 519.4 72.4 519.6 69.1 519.7 50.8 519.8 63.9 520.0 61.6 520.1 48.7 520.3 61.9 520.4 56.3 520.6 58.7 520.7 51.2 520.8 55.7 521.0 57.9 521.1 53.7 521.3 51.4 521.4 54.6 521.6 48.8 521.7 56.7 521.8 43.3 522.0 65.1 522.1 57.6 522.3 60.4 522.4 62.5 522.6 49.5 522.7 71.8 522.8 50.9 523.0 60.8 523.1 60.6 523.3 66.2 523.4 58.9 523.6 50.7 523.7 61.6 523.8 44.1 524.0 58.3 524.1 57.1 524.3 69.9 524.4 59.2 524.6 58.6 524.7 57.1 524.8 55.5 525.0 56.3 525.1 63.1 525.3 51.2 525.4 57.9 525.6 49.8 525.7 57.0 525.9 59.2 526.0 50.3 526.1 54.5 526.3 59.6 526.4 63.2 526.6 63.9 526.7 57.4 526.9 52.7 527.0 48.1 527.1 62.4 527.3 66.4 527.4 60.1 527.6 68.3 527.7 56.0 527.9 56.5 528.0 69.3 528.1 53.1 528.3 63.7 528.4 62.5 528.6 61.5 528.7 72.2 528.9 55.6 529.0 58.1 529.1 47.6 529.3 53.6 529.4 57.5 529.6 58.6 529.7 59.5 529.9 62.6 530.0 57.1 530.1 49.1 530.3 61.9 530.4 62.9 530.6 52.8 530.7 54.1 530.9 69.2 531.0 64.2 531.1 64.7 531.3 61.8 531.4 58.2 531.6 53.9 531.7 59.9 531.9 54.4 532.0 53.4 532.1 56.8 532.3 56.1 532.4 61.4 532.6 50.3 532.7 71.5 532.9 51.1 533.0 54.6 533.1 63.2 533.3 51.9 533.4 54.7 533.6 57.3 533.7 43.8 533.9 54.7 534.0 52.2 534.1 56.7 534.3 61.0 534.4 62.1 534.6 67.0 534.7 66.1 534.9 63.9 535.0 57.7 535.1 64.4 535.3 51.6 535.4 57.5 535.6 66.9 535.7 63.1 535.9 49.2 536.0 54.1 536.1 63.4 536.3 62.0 536.4 65.0 536.6 47.2 536.7 50.2 536.9 57.2 537.0 52.7 537.1 58.0 537.3 58.3 537.4 60.3 537.6 57.6 537.7 62.8 537.9 63.4 538.0 59.8 538.1 51.0 538.3 66.5 538.4 60.3 538.6 61.2 538.7 59.4 538.9 48.5 539.0 61.8 539.1 54.2 539.3 49.7 539.4 64.3 539.6 54.2 539.7 57.7 539.9 61.7 540.0 65.9 540.1 45.5 540.3 51.8 540.4 60.6 540.6 52.8 540.7 41.6 540.9 57.2 541.0 56.9 541.1 59.9 541.3 56.9 541.4 52.5 541.6 56.7 541.7 55.3 541.9 51.5 542.0 56.7 542.1 57.0 542.3 49.2 542.4 61.7 542.6 61.5 542.7 61.5 542.9 41.1 543.0 56.5 543.1 55.3 543.3 49.8 543.4 59.4 543.6 47.0 543.7 64.2 543.9 58.3 544.0 53.4 544.1 65.8 544.3 59.9 544.4 58.1 544.6 47.3 544.7 58.3 544.9 65.1 545.0 63.3 545.1 48.6 545.3 64.8 545.4 66.3 545.6 61.6 545.7 53.7 545.9 48.0 546.0 51.6 546.1 52.9 546.3 57.9 546.4 59.6 546.6 51.2 546.7 44.9 546.9 53.2 547.0 46.1 547.2 62.9 547.3 46.8 547.4 57.2 547.6 59.8 547.7 48.5 547.9 59.9 548.0 52.7 548.2 48.3 548.3 47.6 548.4 54.1 548.6 59.8 548.7 41.3 548.9 56.2 549.0 50.6 549.2 47.2 549.3 51.2 549.4 52.3 549.6 52.2 549.7 58.3 549.9 47.9 550.0 66.0 550.2 58.4 550.3 48.9 550.4 40.7 550.6 52.7 550.7 50.5 550.9 57.5 551.0 57.6 551.2 65.2 551.3 53.0 551.4 58.9 551.6 51.6 551.7 52.2 551.9 63.2 552.0 53.8 552.2 53.1 552.3 51.7 552.4 54.5 552.6 57.1 552.7 52.2 552.9 46.1 553.0 55.3 553.2 48.3 553.3 50.7 553.4 54.8 553.6 54.8 553.7 39.0 553.9 63.5 554.0 57.5 554.2 64.2 554.3 67.6 554.4 46.5 554.6 48.3 554.7 53.6 554.9 58.2 555.0 49.6 555.2 51.0 555.3 58.8 555.4 48.5 555.6 54.7 555.7 60.2 555.9 51.7 556.0 57.9 556.2 52.1 556.3 43.6 556.4 49.0 556.6 51.1 556.7 50.2 556.9 52.3 557.0 54.2 557.2 54.4 557.3 54.3 557.4 50.5 557.6 52.1 557.7 50.8 557.9 49.6 558.0 61.9 558.2 42.0 558.3 56.0 558.4 44.3 558.6 50.0 558.7 58.3 558.9 51.3 559.0 61.5 559.2 46.4 559.3 49.9 559.4 48.6 559.6 52.8 559.7 50.9 559.9 50.9 560.0 53.9 560.2 59.3 560.3 52.3 560.4 51.5 560.6 48.8 560.7 46.5 560.9 41.6 561.0 44.3 561.2 50.8 561.3 38.5 561.4 54.4 561.6 47.9 561.7 44.7 561.9 46.5 562.0 53.6 562.2 53.0 562.3 52.3 562.4 62.0 562.6 65.8 562.7 44.0 562.9 57.5 563.0 47.5 563.2 44.7 563.3 50.3 563.4 58.8 563.6 51.1 563.7 51.1 563.9 62.8 564.0 57.8 564.2 54.1 564.3 66.4 564.4 58.6 564.6 51.2 564.7 49.1 564.9 53.8 565.0 58.0 565.2 62.4 565.3 62.3 565.4 57.0 565.6 48.8 565.7 60.7 565.9 55.7 566.0 48.3 566.2 47.0 566.3 55.7 566.4 57.0 566.6 59.5 566.7 46.8 566.9 65.1 567.0 41.4 567.2 52.3 567.3 60.1 567.5 57.5 567.6 45.3 567.7 54.5 567.9 58.6 568.0 55.5 568.2 45.9 568.3 61.4 568.5 41.5 568.6 50.8 568.7 44.5 568.9 47.9 569.0 48.7 569.2 54.3 569.3 44.7 569.5 54.4 569.6 61.4 569.7 53.7 569.9 57.5 570.0 56.6 570.2 48.9 570.3 51.7 570.5 54.4 570.6 57.4 570.7 67.1 570.9 64.5 571.0 51.6 571.2 51.2 571.3 48.8 571.5 41.0 571.6 63.3 571.7 58.0 571.9 43.1 572.0 55.1 572.2 68.1 572.3 57.3 572.5 57.8 572.6 54.6 572.7 48.3 572.9 45.2 573.0 47.4 573.2 53.8 573.3 51.3 573.5 56.3 573.6 62.1 573.7 55.2 573.9 56.8 574.0 50.0 574.2 43.3 574.3 63.4 574.5 55.0 574.6 58.4 574.7 49.4 574.9 42.2 575.0 61.1 575.2 39.2 575.3 51.7 575.5 49.0 575.6 54.2 575.7 58.3 575.9 58.5 576.0 40.1 576.2 59.3 576.3 41.5 576.5 57.5 576.6 51.9 576.7 47.6 576.9 50.2 577.0 45.1 577.2 53.0 577.3 59.1 577.5 57.9 577.6 53.8 577.7 59.8 577.9 55.9 578.0 65.2 578.2 54.9 578.3 47.3 578.5 49.3 578.6 45.5 578.7 48.3 578.9 48.4 579.0 53.7 579.2 53.7 579.3 49.2 579.5 51.9 579.6 44.8 579.7 45.4 579.9 36.0 580.0 45.1 580.2 46.9 580.3 65.0 580.5 41.9 580.6 50.3 580.7 47.9 580.9 40.1 581.0 51.8 581.2 50.2 581.3 40.8 581.5 35.8 581.6 49.8 581.7 41.4 581.9 54.9 582.0 49.0 582.2 55.0 582.3 49.7 582.5 60.6 582.6 54.8 582.7 60.0 582.9 51.0 583.0 44.5 583.2 42.2 583.3 47.8 583.5 52.8 583.6 47.0 583.7 64.6 583.9 50.4 584.0 53.4 584.2 51.2 584.3 43.4 584.5 58.6 584.6 56.5 584.7 57.4 584.9 46.4 585.0 51.4 585.2 51.0 585.3 58.4 585.5 42.0 585.6 54.2 585.7 57.6 585.9 46.5 586.0 42.8 586.2 56.8 586.3 49.0 586.5 53.9 586.6 52.3 586.7 54.0 586.9 46.5 587.0 35.1 587.2 51.7 587.3 43.3 587.5 51.1 587.6 43.7 587.8 57.4 587.9 46.1 588.0 52.7 588.2 54.9 588.3 48.0 588.5 50.6 588.6 49.0 588.8 44.2 588.9 59.6 589.0 45.6 589.2 41.5 589.3 49.4 589.5 53.4 589.6 51.9 589.8 49.8 589.9 49.1 590.0 38.3 590.2 55.0 590.3 61.9 590.5 46.3 590.6 39.6 590.8 55.4 590.9 49.7 591.0 35.0 591.2 45.5 591.3 40.6 591.5 42.4 591.6 61.5 591.8 55.2 591.9 48.3 592.0 49.0 592.2 57.6 592.3 40.7 592.5 52.5 592.6 44.2 592.8 53.7 592.9 49.3 593.0 43.6 593.2 54.9 593.3 52.1 593.5 60.8 593.6 46.6 593.8 49.3 593.9 44.0 594.0 56.7 594.2 44.4 594.3 49.2 594.5 57.9 594.6 53.5 594.8 50.9 594.9 50.9 595.0 51.4 595.2 53.6 595.3 47.2 595.5 36.9 595.6 57.4 595.8 42.4 595.9 60.5 596.0 50.5 596.2 64.1 596.3 56.1 596.5 51.2 596.6 54.8 596.8 40.7 596.9 50.1 597.0 46.2 597.2 48.4 597.3 35.5 597.5 35.2 597.6 53.0 597.8 49.2 597.9 45.9 598.0 48.0 598.2 45.2 598.3 46.4 598.5 52.4 598.6 47.1 598.8 52.8 598.9 44.4 599.0 36.9 599.2 43.5 599.3 46.9 599.5 41.3 599.6 46.2 599.8 46.4 599.9 55.9 600.0 56.1 600.2 58.2 600.3 47.2 600.5 53.8 600.6 59.9 600.8 53.2 600.9 51.5 601.0 47.3 601.2 56.9 601.3 52.2 601.5 58.7 601.6 50.7 601.8 64.7 601.9 53.0 602.0 46.3 602.2 55.7 602.3 58.1 602.5 62.3 602.6 50.3 602.8 48.7 602.9 49.9 603.0 49.5 603.2 38.0 603.3 55.3 603.5 58.7 603.6 46.2 603.8 44.3 603.9 48.9 604.0 44.9 604.2 55.9 604.3 47.5 604.5 53.9 604.6 42.9 604.8 41.5 604.9 40.7 605.0 41.0 605.2 52.7 605.3 54.6 605.5 50.4 605.6 51.4 605.8 36.4 605.9 57.8 606.0 42.4 606.2 59.1 606.3 64.9 606.5 51.3 606.6 54.3 606.8 54.2 606.9 42.2 607.0 42.7 607.2 45.3 607.3 50.7 607.5 55.2 607.6 50.9 607.8 57.2 607.9 46.5 608.1 41.0 608.2 50.1 608.3 49.9 608.5 41.4 608.6 56.0 608.8 43.8 608.9 45.3 609.1 51.2 609.2 43.2 609.3 54.5 609.5 52.6 609.6 54.4 609.8 51.2 609.9 48.9 610.1 47.8 610.2 53.6 610.3 59.7 610.5 56.4 610.6 53.3 610.8 57.0 610.9 59.8 611.1 43.4 611.2 50.7 611.3 58.8 611.5 46.0 611.6 47.1 611.8 53.9 611.9 48.3 612.1 57.2 612.2 46.1 612.3 51.1 612.5 64.1 612.6 54.6 612.8 40.0 612.9 40.7 613.1 40.8 613.2 47.0 613.3 38.7 613.5 50.2 613.6 58.4 613.8 57.5 613.9 42.4 614.1 45.4 614.2 45.4 614.3 41.8 614.5 57.9 614.6 44.2 614.8 41.6 614.9 50.8 615.1 50.6 615.2 59.0 615.3 59.6 615.5 49.1 615.6 37.3 615.8 53.1 615.9 54.4 616.1 60.3 616.2 39.7 616.3 42.4 616.5 60.4 616.6 60.3 616.8 58.3 616.9 50.5 617.1 57.7 617.2 45.8 617.3 41.8 617.5 48.8 617.6 49.4 617.8 53.5 617.9 54.8 618.1 37.1 618.2 49.1 618.3 50.3 618.5 39.4 618.6 44.8 618.8 47.7 618.9 49.8 619.1 42.1 619.2 43.7 619.3 40.3 619.5 49.1 619.6 45.2 619.8 43.5 619.9 50.7 620.1 46.9 620.2 40.5 620.3 54.3 620.5 54.2 620.6 51.1 620.8 42.6 620.9 56.7 621.1 46.6 621.2 38.9 621.3 49.5 621.5 60.7 621.6 47.3 621.8 52.7 621.9 57.3 622.1 49.9 622.2 47.2 622.3 50.0 622.5 52.9 622.6 45.4 622.8 50.5 622.9 51.6 623.1 46.0 623.2 53.3 623.3 52.1 623.5 45.9 623.6 47.0 623.8 48.1 623.9 45.8 624.1 44.6 624.2 39.8 624.3 46.6 624.5 50.7 624.6 50.3 624.8 42.2 624.9 50.6 625.1 51.3 625.2 42.1 625.3 50.5 625.5 46.5 625.6 45.8 625.8 49.3 625.9 46.6 626.1 33.9 626.2 49.0 626.3 41.4 626.5 47.8 626.6 52.3 626.8 47.0 626.9 45.9 627.1 49.6 627.2 51.0 627.3 43.4 627.5 45.0 627.6 51.8 627.8 58.5 627.9 49.3 628.1 54.4 628.2 43.7 628.4 47.8 628.5 47.8 628.6 39.6 628.8 47.2 628.9 46.5 629.1 32.3 629.2 45.5 629.4 47.5 629.5 47.0 629.6 47.3 629.8 38.5 629.9 40.7 630.1 44.2 630.2 39.9 630.4 41.8 630.5 52.2 630.6 38.7 630.8 41.8 630.9 54.0 631.1 41.9 631.2 38.5 631.4 45.6 631.5 45.3 631.6 44.8 631.8 34.0 631.9 46.2 632.1 47.3 632.2 58.3 632.4 50.6 632.5 43.7 632.6 48.6 632.8 50.6 632.9 45.9 633.1 46.6 633.2 54.5 633.4 49.5 633.5 49.0 633.6 40.9 633.8 49.6 633.9 36.8 634.1 55.4 634.2 44.8 634.4 52.3 634.5 56.6 634.6 42.0 634.8 55.2 634.9 49.5 635.1 55.8 635.2 45.8 635.4 42.9 635.5 54.7 635.6 49.8 635.8 47.9 635.9 40.6 636.1 54.4 636.2 45.3 636.4 45.9 636.5 42.9 636.6 46.5 636.8 49.9 636.9 45.3 637.1 45.3 637.2 42.1 637.4 53.6 637.5 54.6 637.6 43.4 637.8 40.2 637.9 46.7 638.1 34.9 638.2 46.7 638.4 47.1 638.5 46.8" fill="none" stroke="#ff7f0e" stroke-width="1.4" stroke-linejoin="miter" stroke-miterlimit="2"/>
<path d="M433.5 186.7 433.6 184.2 433.8 190.4 433.9 194.3 434.1 198.3 434.2 192.1 434.4 188.5 434.5 187.8 434.6 196.0 434.8 200.8 434.9 193.5 435.1 185.1 435.2 186.7 435.4 200.4 435.5 192.4 435.6 182.0 435.8 191.9 435.9 185.9 436.1 188.6 436.2 189.0 436.4 187.5 436.5 194.3 436.6 190.4 436.8 187.6 436.9 193.2 437.1 195.6 437.2 181.7 437.4 189.8 437.5 185.6 437.6 190.0 437.8 183.4 437.9 190.8 438.1 190.2 438.2 189.1 438.4 185.3 438.5 188.5 438.6 184.7 438.8 183.2 438.9 192.4 439.1 185.0 439.2 197.5 439.4 195.4 439.5 180.5 439.6 193.0 439.8 185.0 439.9 191.2 440.1 191.6 440.2 180.6 440.4 190.1 440.5 189.8 440.6 196.6 440.8 185.3 440.9 195.4 441.1 185.4 441.2 189.8 441.4 186.9 441.5 200.8 441.6 195.7 441.8 204.6 441.9 195.9 442.1 197.6 442.2 197.6 442.4 189.3 442.5 192.3 442.6 200.9 442.8 190.3 442.9 193.8 443.1 192.6 443.2 196.2 443.4 191.1 443.5 192.7 443.6 196.0 443.8 194.8 443.9 189.0 444.1 198.7 444.2 185.8 444.4 186.1 444.5 185.4 444.7 197.9 444.8 190.2 444.9 186.8 445.1 185.5 445.2 193.9 445.4 185.5 445.5 185.1 445.7 195.4 445.8 185.8 445.9 190.4 446.1 192.5 446.2 190.0 446.4 192.0 446.5 200.1 446.7 189.6 446.8 185.2 446.9 182.5 447.1 192.3 447.2 192.0 447.4 195.4 447.5 191.9 447.7 192.1 447.8 190.6 447.9 191.4 448.1 194.8 448.2 192.3 448.4 195.3 448.5 204.5 448.7 196.3 448.8 185.1 448.9 204.2 449.1 195.7 449.2 188.1 449.4 198.5 449.5 193.3 449.7 189.3 449.8 189.8 449.9 187.5 450.1 193.2 450.2 198.2 450.4 190.8 450.5 194.2 450.7 201.8 450.8 184.7 450.9 193.3 451.1 190.3 451.2 185.9 451.4 185.9 451.5 191.5 451.7 193.8 451.8 188.2 451.9 191.5 452.1 195.2 452.2 193.2 452.4 196.3 452.5 193.8 452.7 193.8 452.8 201.8 452.9 194.6 453.1 192.0 453.2 195.7 453.4 186.9 453.5 189.9 453.7 196.7 453.8 195.4 453.9 200.2 454.1 191.7 454.2 183.5 454.4 202.1 454.5 197.2 454.7 185.4 454.8 199.1 454.9 190.5 455.1 179.9 455.2 187.9 455.4 187.5 455.5 198.9 455.7 185.3 455.8 187.8 455.9 188.2 456.1 187.2 456.2 184.1 456.4 189.9 456.5 194.8 456.7 191.8 456.8 183.1 456.9 181.7 457.1 189.0 457.2 184.1 457.4 185.0 457.5 179.4 457.7 199.0 457.8 193.1 457.9 183.3 458.1 194.1 458.2 196.4 458.4 175.7 458.5 185.6 458.7 186.7 458.8 192.5 458.9 188.5 459.1 187.4 459.2 188.1 459.4 198.7 459.5 201.0 459.7 185.8 459.8 183.2 459.9 201.6 460.1 182.4 460.2 184.4 460.4 187.4 460.5 189.4 460.7 193.2 460.8 190.3 460.9 183.0 461.1 190.2 461.2 188.7 461.4 197.0 461.5 186.7 461.7 179.0 461.8 180.2 461.9 193.4 462.1 183.1 462.2 174.7 462.4 184.0 462.5 186.7 462.7 193.4 462.8 182.0 462.9 191.3 463.1 192.0 463.2 183.9 463.4 186.7 463.5 197.8 463.7 197.2 463.8 192.3 463.9 188.8 464.1 194.0 464.2 186.9 464.4 187.0 464.5 181.8 464.7 186.7 464.8 186.4 465.0 200.1 465.1 185.8 465.2 193.7 465.4 193.7 465.5 185.0 465.7 192.3 465.8 173.2 466.0 185.7 466.1 190.1 466.2 173.0 466.4 178.4 466.5 190.8 466.7 183.8 466.8 178.9 467.0 183.4 467.1 181.9 467.2 188.9 467.4 187.6 467.5 183.7 467.7 181.8 467.8 185.3 468.0 193.7 468.1 187.3 468.2 189.3 468.4 185.2 468.5 179.3 468.7 182.2 468.8 189.8 469.0 186.5 469.1 181.2 469.2 176.9 469.4 186.2 469.5 183.4 469.7 183.8 469.8 183.8 470.0 186.5 470.1 186.4 470.2 190.0 470.4 190.1 470.5 192.2 470.7 189.2 470.8 182.9 471.0 184.2 471.1 187.7 471.2 183.0 471.4 187.8 471.5 191.2 471.7 181.0 471.8 175.1 472.0 191.2 472.1 184.8 472.2 189.1 472.4 177.9 472.5 195.1 472.7 189.0 472.8 184.1 473.0 183.0 473.1 185.6 473.2 183.6 473.4 182.1 473.5 177.9 473.7 191.0 473.8 183.6 474.0 183.9 474.1 184.3 474.2 170.3 474.4 186.2 474.5 181.8 474.7 181.4 474.8 183.6 475.0 178.2 475.1 188.0 475.2 179.2 475.4 177.8 475.5 177.6 475.7 183.0 475.8 186.7 476.0 178.9 476.1 174.4 476.2 188.5 476.4 177.1 476.5 189.1 476.7 182.2 476.8 178.8 477.0 179.8 477.1 185.5 477.2 188.7 477.4 182.4 477.5 188.8 477.7 195.0 477.8 182.2 478.0 176.7 478.1 177.1 478.2 175.3 478.4 178.7 478.5 178.5 478.7 175.2 478.8 185.4 479.0 168.5 479.1 175.5 479.2 194.3 479.4 189.0 479.5 186.4 479.7 185.8 479.8 192.6 480.0 184.8 480.1 182.2 480.2 174.9 480.4 181.3 480.5 177.4 480.7 177.8 480.8 178.1 481.0 181.9 481.1 179.8 481.2 186.4 481.4 174.7 481.5 181.1 481.7 192.7 481.8 182.2 482.0 188.4 482.1 188.5 482.2 189.7 482.4 186.2 482.5 174.0 482.7 180.2 482.8 179.0 483.0 172.7 483.1 178.4 483.2 173.7 483.4 171.8 483.5 182.0 483.7 181.0 483.8 177.3 484.0 175.6 484.1 178.5 484.2 179.8 484.4 179.5 484.5 181.1 484.7 178.4 484.8 182.8 485.0 183.5 485.1 181.7 485.3 176.0 485.4 175.9 485.5 181.6 485.7 177.5 485.8 178.9 486.0 165.9 486.1 165.9 486.3 180.1 486.4 179.5 486.5 186.0 486.7 182.0 486.8 179.1 487.0 178.0 487.1 170.2 487.3 182.4 487.4 174.0 487.5 180.6 487.7 179.0 487.8 179.8 488.0 182.8 488.1 175.2 488.3 175.5 488.4 172.8 488.5 175.0 488.7 187.0 488.8 175.3 489.0 184.5 489.1 182.7 489.3 183.0 489.4 184.1 489.5 173.6 489.7 181.5 489.8 187.9 490.0 175.4 490.1 178.7 490.3 174.7 490.4 180.5 490.5 172.7 490.7 187.4 490.8 175.6 491.0 168.5 491.1 187.6 491.3 182.4 491.4 179.8 491.5 180.4 491.7 175.3 491.8 176.5 492.0 181.5 492.1 182.3 492.3 181.8 492.4 177.1 492.5 173.2 492.7 174.4 492.8 181.8 493.0 183.4 493.1 172.6 493.3 172.3 493.4 181.6 493.5 177.7 493.7 177.9 493.8 167.2 494.0 173.0 494.1 171.8 494.3 176.2 494.4 166.2 494.5 182.4 494.7 176.8 494.8 177.9 495.0 169.0 495.1 175.8 495.3 184.0 495.4 168.1 495.5 178.1 495.7 180.2 495.8 172.0 496.0 180.5 496.1 174.8 496.3 183.3 496.4 179.6 496.5 179.0 496.7 188.5 496.8 181.8 497.0 184.4 497.1 170.5 497.3 173.3 497.4 181.2 497.5 181.6 497.7 175.9 497.8 180.4 498.0 169.5 498.1 175.6 498.3 167.7 498.4 176.3 498.5 171.6 498.7 170.4 498.8 174.4 499.0 184.0 499.1 168.5 499.3 170.8 499.4 179.9 499.5 171.2 499.7 183.6 499.8 174.9 500.0 173.9 500.1 175.8 500.3 183.2 500.4 177.3 500.5 176.9 500.7 176.0 500.8 165.3 501.0 169.5 501.1 183.5 501.3 179.4 501.4 177.6 501.5 178.7 501.7 172.3 501.8 177.0 502.0 169.8 502.1 176.6 502.3 170.7 502.4 173.0 502.5 176.5 502.7 172.2 502.8 177.9 503.0 177.1 503.1 176.7 503.3 181.7 503.4 166.1 503.5 165.5 503.7 177.1 503.8 180.0 504.0 185.8 504.1 178.5 504.3 179.3 504.4 170.3 504.5 179.7 504.7 179.3 504.8 169.6 505.0 170.8 505.1 174.7 505.3 176.5 505.4 161.4 505.6 175.7 505.7 176.6 505.8 174.0 506.0 176.3 506.1 176.5 506.3 168.7 506.4 176.7 506.6 173.0 506.7 169.6 506.8 176.2 507.0 184.1 507.1 167.4 507.3 166.5 507.4 166.2 507.6 185.4 507.7 173.3 507.8 174.3 508.0 170.1 508.1 169.4 508.3 163.6 508.4 176.4 508.6 176.6 508.7 163.6 508.8 169.2 509.0 170.6 509.1 174.6 509.3 176.1 509.4 180.8 509.6 181.4 509.7 179.4 509.8 180.6 510.0 167.3 510.1 170.9 510.3 180.4 510.4 175.4 510.6 173.5 510.7 162.4 510.8 163.6 511.0 177.9 511.1 176.0 511.3 172.1 511.4 170.5 511.6 163.0 511.7 175.2 511.8 177.9 512.0 181.5 512.1 173.0 512.3 171.6 512.4 166.3 512.6 180.2 512.7 182.7 512.8 169.9 513.0 173.9 513.1 172.2 513.3 168.8 513.4 158.5 513.6 171.0 513.7 176.4 513.8 164.8 514.0 168.4 514.1 158.0 514.3 180.1 514.4 175.9 514.6 173.6 514.7 171.6 514.8 169.8 515.0 172.8 515.1 171.3 515.3 171.0 515.4 172.2 515.6 172.7 515.7 179.9 515.8 163.7 516.0 173.6 516.1 169.4 516.3 166.5 516.4 159.4 516.6 175.9 516.7 166.6 516.8 167.7 517.0 174.6 517.1 166.1 517.3 172.3 517.4 171.3 517.6 175.6 517.7 176.4 517.8 165.7 518.0 175.4 518.1 169.5 518.3 171.2 518.4 169.5 518.6 175.1 518.7 164.7 518.8 171.9 519.0 176.3 519.1 168.3 519.3 180.8 519.4 165.1 519.6 170.2 519.7 166.9 519.8 166.9 520.0 163.8 520.1 167.3 520.3 169.7 520.4 165.5 520.6 174.3 520.7 177.6 520.8 161.4 521.0 174.1 521.1 171.0 521.3 172.0 521.4 184.7 521.6 177.2 521.7 172.7 521.8 171.9 522.0 159.4 522.1 175.1 522.3 166.7 522.4 172.1 522.6 172.4 522.7 176.7 522.8 182.5 523.0 176.7 523.1 178.1 523.3 170.1 523.4 174.9 523.6 176.9 523.7 164.9 523.8 184.1 524.0 169.0 524.1 165.2 524.3 180.6 524.4 182.9 524.6 167.4 524.7 167.7 524.8 185.0 525.0 171.2 525.1 160.5 525.3 168.5 525.4 182.8 525.6 175.0 525.7 176.3 525.9 178.4 526.0 175.1 526.1 169.4 526.3 161.8 526.4 172.3 526.6 163.1 526.7 169.1 526.9 178.8 527.0 171.8 527.1 169.2 527.3 168.9 527.4 172.8 527.6 174.2 527.7 162.0 527.9 170.4 528.0 179.2 528.1 174.2 528.3 164.9 528.4 166.6 528.6 159.1 528.7 166.0 528.9 179.5 529.0 171.0 529.1 166.3 529.3 168.3 529.4 171.0 529.6 172.0 529.7 170.3 529.9 168.8 530.0 177.0 530.1 182.9 530.3 172.0 530.4 171.1 530.6 180.7 530.7 166.5 530.9 171.2 531.0 172.6 531.1 174.7 531.3 173.4 531.4 169.5 531.6 176.4 531.7 167.9 531.9 164.6 532.0 163.1 532.1 178.4 532.3 164.6 532.4 176.2 532.6 176.8 532.7 177.1 532.9 171.1 533.0 169.2 533.1 172.7 533.3 168.7 533.4 164.7 533.6 178.8 533.7 166.6 533.9 181.6 534.0 174.6 534.1 169.9 534.3 174.8 534.4 179.7 534.6 165.7 534.7 168.8 534.9 167.8 535.0 173.9 535.1 175.6 535.3 173.4 535.4 169.3 535.6 170.6 535.7 180.7 535.9 180.0 536.0 174.4 536.1 165.8 536.3 176.7 536.4 175.4 536.6 175.2 536.7 183.6 536.9 178.5 537.0 168.5 537.1 168.5 537.3 181.1 537.4 173.9 537.6 176.8 537.7 172.0 537.9 166.9 538.0 173.8 538.1 180.9 538.3 173.7 538.4 165.8 538.6 170.9 538.7 169.4 538.9 173.1 539.0 176.9 539.1 182.3 539.3 172.7 539.4 169.1 539.6 171.8 539.7 171.1 539.9 169.0 540.0 172.0 540.1 171.6 540.3 164.2 540.4 173.7 540.6 169.5 540.7 165.4 540.9 174.2 541.0 169.4 541.1 182.3 541.3 175.3 541.4 173.4 541.6 168.6 541.7 170.1 541.9 176.6 542.0 169.3 542.1 177.1 542.3 161.8 542.4 174.7 542.6 178.3 542.7 175.8 542.9 173.8 543.0 178.9 543.1 169.2 543.3 169.0 543.4 175.5 543.6 181.4 543.7 177.2 543.9 173.7 544.0 176.0 544.1 175.9 544.3 166.3 544.4 158.5 544.6 166.4 544.7 164.2 544.9 169.3 545.0 165.1 545.1 167.0 545.3 173.2 545.4 171.2 545.6 170.3 545.7 179.3 545.9 167.8 546.0 168.5 546.1 177.6 546.3 164.3 546.4 161.4 546.6 177.6 546.7 172.4 546.9 173.5 547.0 173.9 547.2 175.6 547.3 168.3 547.4 170.8 547.6 165.4 547.7 171.8 547.9 171.7 548.0 167.8 548.2 174.5 548.3 183.9 548.4 165.3 548.6 175.1 548.7 174.8 548.9 174.7 549.0 164.8 549.2 175.6 549.3 171.9 549.4 167.1 549.6 165.8 549.7 169.3 549.9 173.8 550.0 173.4 550.2 181.2 550.3 166.9 550.4 171.7 550.6 166.7 550.7 173.6 550.9 169.9 551.0 166.6 551.2 162.7 551.3 165.9 551.4 171.0 551.6 178.0 551.7 175.1 551.9 164.5 552.0 168.4 552.2 171.2 552.3 170.9 552.4 172.2 552.6 175.9 552.7 172.2 552.9 166.7 553.0 159.9 553.2 169.0 553.3 161.7 553.4 170.4 553.6 172.3 553.7 163.2 553.9 170.7 554.0 169.2 554.2 180.6 554.3 172.4 554.4 159.9 554.6 172.8 554.7 172.1 554.9 168.6 555.0 167.8 555.2 173.2 555.3 173.4 555.4 173.3 555.6 165.4 555.7 170.1 555.9 163.1 556.0 163.0 556.2 168.0 556.3 165.3 556.4 168.8 556.6 182.8 556.7 173.7 556.9 165.6 557.0 158.6 557.2 165.6 557.3 162.7 557.4 158.4 557.6 173.8 557.7 167.8 557.9 173.0 558.0 182.6 558.2 171.5 558.3 171.0 558.4 171.9 558.6 167.9 558.7 164.7 558.9 168.0 559.0 175.8 559.2 168.1 559.3 161.4 559.4 162.0 559.6 163.5 559.7 169.0 559.9 172.1 560.0 172.1 560.2 175.8 560.3 168.6 560.4 173.8 560.6 171.5 560.7 173.2 560.9 159.6 561.0 176.7 561.2 161.5 561.3 163.2 561.4 173.8 561.6 167.8 561.7 179.6 561.9 171.2 562.0 164.5 562.2 171.3 562.3 168.6 562.4 178.9 562.6 179.7 562.7 174.8 562.9 167.7 563.0 170.8 563.2 176.2 563.3 165.0 563.4 164.3 563.6 173.5 563.7 173.1 563.9 167.5 564.0 166.5 564.2 156.5 564.3 173.7 564.4 166.1 564.6 158.2 564.7 159.4 564.9 160.8 565.0 175.0 565.2 169.7 565.3 157.6 565.4 175.1 565.6 172.5 565.7 159.3 565.9 154.8 566.0 169.6 566.2 160.8 566.3 163.6 566.4 162.6 566.6 172.2 566.7 173.6 566.9 169.9 567.0 165.0 567.2 167.0 567.3 169.1 567.5 156.8 567.6 172.1 567.7 163.7 567.9 167.0 568.0 166.7 568.2 170.6 568.3 172.5 568.5 179.2 568.6 165.1 568.7 161.6 568.9 167.6 569.0 163.0 569.2 171.0 569.3 161.9 569.5 166.4 569.6 170.5 569.7 170.6 569.9 166.1 570.0 173.4 570.2 173.0 570.3 157.1 570.5 168.5 570.6 167.7 570.7 165.3 570.9 163.0 571.0 166.8 571.2 168.2 571.3 167.2 571.5 173.0 571.6 170.6 571.7 162.4 571.9 161.5 572.0 170.4 572.2 162.4 572.3 167.2 572.5 169.7 572.6 173.4 572.7 170.6 572.9 175.4 573.0 163.9 573.2 169.9 573.3 162.3 573.5 166.7 573.6 166.2 573.7 160.5 573.9 152.6 574.0 171.7 574.2 169.0 574.3 168.2 574.5 163.8 574.6 165.8 574.7 169.4 574.9 166.2 575.0 172.4 575.2 166.7 575.3 161.7 575.5 168.3 575.6 161.4 575.7 166.1 575.9 155.1 576.0 163.2 576.2 168.4 576.3 161.6 576.5 164.7 576.6 168.1 576.7 165.3 576.9 174.7 577.0 163.2 577.2 163.4 577.3 163.1 577.5 152.6 577.6 154.3 577.7 165.9 577.9 161.5 578.0 170.3 578.2 162.1 578.3 161.4 578.5 168.5 578.6 164.6 578.7 171.4 578.9 157.5 579.0 166.2 579.2 167.8 579.3 166.9 579.5 169.9 579.6 168.8 579.7 163.7 579.9 160.4 580.0 168.8 580.2 163.6 580.3 169.2 580.5 171.3 580.6 164.9 580.7 158.7 580.9 161.8 581.0 167.6 581.2 161.6 581.3 169.3 581.5 163.0 581.6 163.3 581.7 159.2 581.9 162.1 582.0 167.8 582.2 159.3 582.3 158.6 582.5 156.4 582.6 166.3 582.7 153.6 582.9 158.0 583.0 166.1 583.2 168.9 583.3 160.1 583.5 166.7 583.6 150.8 583.7 165.8 583.9 163.4 584.0 155.5 584.2 153.0 584.3 159.8 584.5 164.2 584.6 164.7 584.7 163.5 584.9 166.6 585.0 166.7 585.2 155.6 585.3 161.2 585.5 161.2 585.6 168.5 585.7 159.9 585.9 168.6 586.0 163.6 586.2 175.8 586.3 162.2 586.5 162.7 586.6 162.0 586.7 164.2 586.9 175.7 587.0 159.5 587.2 157.4 587.3 161.6 587.5 167.3 587.6 158.2 587.8 168.2 587.9 168.2 588.0 163.1 588.2 162.3 588.3 159.6 588.5 161.8 588.6 158.9 588.8 170.5 588.9 171.9 589.0 161.2 589.2 162.3 589.3 152.4 589.5 159.3 589.6 164.0 589.8 163.7 589.9 163.0 590.0 167.5 590.2 163.8 590.3 161.6 590.5 171.5 590.6 152.7 590.8 156.2 590.9 158.1 591.0 157.7 591.2 158.0 591.3 160.4 591.5 157.5 591.6 161.8 591.8 164.6 591.9 161.8 592.0 162.2 592.2 155.9 592.3 154.5 592.5 159.1 592.6 166.0 592.8 162.5 592.9 165.4 593.0 165.0 593.2 165.5 593.3 154.4 593.5 165.5 593.6 162.6 593.8 169.4 593.9 161.5 594.0 160.2 594.2 157.6 594.3 159.5 594.5 149.9 594.6 158.1 594.8 159.0 594.9 164.9 595.0 156.2 595.2 161.2 595.3 170.8 595.5 157.8 595.6 164.8 595.8 157.9 595.9 161.1 596.0 164.1 596.2 166.2 596.3 159.0 596.5 156.2 596.6 170.0 596.8 163.4 596.9 166.6 597.0 167.2 597.2 166.2 597.3 161.0 597.5 161.7 597.6 153.5 597.8 163.2 597.9 159.7 598.0 161.9 598.2 171.5 598.3 164.6 598.5 161.9 598.6 154.1 598.8 165.1 598.9 168.6 599.0 156.0 599.2 162.5 599.3 157.5 599.5 159.0 599.6 157.6 599.8 151.0 599.9 156.9 600.0 151.0 600.2 167.0 600.3 164.5 600.5 158.9 600.6 160.3 600.8 159.6 600.9 160.9 601.0 161.3 601.2 159.3 601.3 160.0 601.5 154.2 601.6 156.1 601.8 157.7 601.9 163.0 602.0 160.1 602.2 172.3 602.3 161.2 602.5 161.1 602.6 165.4 602.8 168.6 602.9 172.9 603.0 168.6 603.2 160.7 603.3 163.1 603.5 169.2 603.6 165.1 603.8 167.6 603.9 162.7 604.0 171.1 604.2 169.7 604.3 167.9 604.5 161.8 604.6 152.7 604.8 154.3 604.9 163.3 605.0 164.8 605.2 148.8 605.3 159.3 605.5 167.3 605.6 166.0 605.8 157.3 605.9 164.0 606.0 160.9 606.2 159.5 606.3 166.6 606.5 166.7 606.6 157.3 606.8 155.5 606.9 153.3 607.0 152.8 607.2 167.8 607.3 170.4 607.5 161.9 607.6 166.2 607.8 157.4 607.9 160.7 608.1 166.1 608.2 162.7 608.3 161.4 608.5 152.7 608.6 154.6 608.8 160.8 608.9 159.7 609.1 161.8 609.2 159.0 609.3 161.0 609.5 162.2 609.6 165.1 609.8 162.4 609.9 159.2 610.1 160.5 610.2 166.8 610.3 161.6 610.5 157.5 610.6 157.2 610.8 163.3 610.9 164.2 611.1 167.5 611.2 159.7 611.3 168.2 611.5 159.4 611.6 159.4 611.8 157.2 611.9 162.8 612.1 165.9 612.2 159.9 612.3 157.3 612.5 152.0 612.6 160.3 612.8 157.7 612.9 158.0 613.1 156.2 613.2 154.7 613.3 157.0 613.5 161.6 613.6 164.3 613.8 159.2 613.9 161.0 614.1 158.5 614.2 158.4 614.3 151.8 614.5 163.8 614.6 162.2 614.8 167.1 614.9 156.0 615.1 160.0 615.2 154.8 615.3 161.1 615.5 159.4 615.6 164.4 615.8 159.4 615.9 163.7 616.1 157.7 616.2 163.6 616.3 158.7 616.5 158.5 616.6 161.1 616.8 163.2 616.9 153.5 617.1 152.6 617.2 161.4 617.3 159.8 617.5 149.2 617.6 150.8 617.8 155.8 617.9 161.9 618.1 161.1 618.2 164.9 618.3 165.4 618.5 171.8 618.6 151.7 618.8 159.7 618.9 166.0 619.1 153.9 619.2 153.4 619.3 161.7 619.5 165.7 619.6 166.7 619.8 150.7 619.9 153.8 620.1 160.0 620.2 157.0 620.3 161.0 620.5 160.4 620.6 169.0 620.8 159.5 620.9 160.9 621.1 159.9 621.2 165.3 621.3 153.7 621.5 161.1 621.6 154.6 621.8 150.8 621.9 163.8 622.1 160.2 622.2 164.0 622.3 157.8 622.5 160.0 622.6 157.5 622.8 158.9 622.9 154.2 623.1 165.8 623.2 152.4 623.3 166.9 623.5 156.5 623.6 162.1 623.8 158.6 623.9 160.1 624.1 165.8 624.2 157.8 624.3 152.4 624.5 158.6 624.6 160.3 624.8 145.4 624.9 162.1 625.1 162.9 625.2 148.1 625.3 157.4 625.5 162.7 625.6 152.7 625.8 157.0 625.9 156.9 626.1 161.3 626.2 164.2 626.3 157.5 626.5 157.7 626.6 162.3 626.8 159.3 626.9 155.3 627.1 162.4 627.2 148.7 627.3 157.1 627.5 154.5 627.6 154.1 627.8 158.2 627.9 158.0 628.1 171.0 628.2 161.2 628.4 159.4 628.5 166.1 628.6 162.6 628.8 147.1 628.9 157.8 629.1 161.6 629.2 154.6 629.4 159.6 629.5 155.6 629.6 159.8 629.8 149.9 629.9 148.8 630.1 156.8 630.2 160.7 630.4 166.2 630.5 157.4 630.6 154.9 630.8 163.8 630.9 159.0 631.1 168.1 631.2 158.4 631.4 148.1 631.5 154.6 631.6 153.7 631.8 151.5 631.9 154.3 632.1 154.6 632.2 157.3 632.4 155.7 632.5 161.1 632.6 162.0 632.8 160.8 632.9 160.2 633.1 149.0 633.2 150.5 633.4 154.8 633.5 161.0 633.6 151.5 633.8 157.3 633.9 160.8 634.1 169.9 634.2 159.9 634.4 156.0 634.5 164.3 634.6 159.5 634.8 156.9 634.9 164.8 635.1 153.9 635.2 159.7 635.4 159.0 635.5 163.2 635.6 151.3 635.8 150.9 635.9 155.7 636.1 156.6 636.2 157.4 636.4 155.0 636.5 159.5 636.6 160.6 636.8 158.0 636.9 150.4 637.1 162.3 637.2 148.3 637.4 155.2 637.5 160.9 637.6 152.7 637.8 162.7 637.9 166.1 638.1 164.2 638.2 158.5 638.4 161.9 638.5 153.9" fill="none" stroke="#1f77b4" stroke-width="1.4" stroke-linejoin="miter" stroke-miterlimit="2"/>
<path d="M433.5 282.5 433.6 285.9 433.8 265.6 433.9 276.3 434.1 282.1 434.2 283.6 434.4 280.7 434.5 284.6 434.6 278.8 434.8 280.2 434.9 278.1 435.1 272.3 435.2 273.4 435.4 278.6 435.5 274.0 435.6 282.1 435.8 281.7 435.9 283.8 436.1 276.5 436.2 281.9 436.4 273.1 436.5 273.7 436.6 277.4 436.8 279.1 436.9 271.6 437.1 270.7 437.2 279.2 437.4 274.3 437.5 263.0 437.6 279.5 437.8 279.2 437.9 279.3 438.1 282.6 438.2 278.3 438.4 283.4 438.5 277.2 438.6 278.4 438.8 276.6 438.9 281.7 439.1 279.9 439.2 276.4 439.4 286.6 439.5 277.8 439.6 278.8 439.8 280.0 439.9 285.3 440.1 278.3 440.2 281.4 440.4 279.2 440.5 273.6 440.6 282.1 440.8 283.4 440.9 278.4 441.1 278.9 441.2 273.4 441.4 272.7 441.5 277.1 441.6 281.1 441.8 277.3 441.9 280.1 442.1 282.5 442.2 279.3 442.4 281.0 442.5 284.2 442.6 274.4 442.8 282.5 442.9 272.5 443.1 281.4 443.2 280.4 443.4 277.6 443.5 275.7 443.7 279.8 443.8 278.1 443.9 279.8 444.1 276.3 444.2 282.0 444.4 276.9 444.5 280.0 444.7 279.8 444.8 286.2 444.9 275.9 445.1 280.5 445.2 286.4 445.4 279.7 445.5 277.2 445.7 282.3 445.8 280.1 445.9 284.4 446.1 278.0 446.2 282.5 446.4 284.3 446.5 285.5 446.7 277.9 446.8 287.1 446.9 278.6 447.1 276.0 447.2 277.7 447.4 281.1 447.5 278.9 447.7 282.1 447.8 282.2 447.9 281.5 448.1 278.9 448.2 286.7 448.4 271.8 448.5 273.3 448.7 277.9 448.8 275.1 448.9 271.6 449.1 276.3 449.2 276.9 449.4 271.6 449.5 283.4 449.7 284.9 449.8 284.6 449.9 278.4 450.1 281.1 450.2 276.6 450.4 281.9 450.5 279.3 450.7 283.2 450.8 280.9 450.9 285.8 451.1 285.2 451.2 286.5 451.4 276.1 451.5 275.7 451.7 284.2 451.8 280.2 451.9 284.3 452.1 284.1 452.2 283.4 452.4 286.0 452.5 284.0 452.7 283.3 452.8 278.1 452.9 287.8 453.1 281.2 453.2 284.5 453.4 281.5 453.5 284.7 453.7 280.8 453.8 280.5 453.9 280.4 454.1 277.4 454.2 278.3 454.4 279.4 454.5 279.5 454.7 275.9 454.8 288.9 454.9 276.0 455.1 278.2 455.2 288.5 455.4 276.9 455.5 282.4 455.7 281.9 455.8 279.0 455.9 274.4 456.1 274.1 456.2 279.9 456.4 281.8 456.5 272.4 456.7 280.8 456.8 278.0 456.9 283.4 457.1 280.6 457.2 276.7 457.4 278.6 457.5 280.5 457.7 285.0 457.8 290.0 457.9 281.1 458.1 281.2 458.2 283.6 458.4 281.2 458.5 283.5 458.7 282.6 458.8 281.1 458.9 278.4 459.1 282.1 459.2 285.0 459.4 281.6 459.5 286.2 459.7 284.2 459.8 280.0 459.9 286.7 460.1 276.2 460.2 284.8 460.4 286.8 460.5 279.0 460.7 279.9 460.8 283.9 460.9 285.9 461.1 281.8 461.2 280.5 461.4 283.2 461.5 280.8 461.7 275.5 461.8 279.5 462.0 280.5 462.1 275.2 462.2 282.1 462.4 278.1 462.5 283.9 462.7 275.7 462.8 278.4 463.0 276.3 463.1 286.4 463.2 286.6 463.4 287.6 463.5 288.0 463.7 286.0 463.8 286.0 464.0 276.2 464.1 283.9 464.2 281.0 464.4 281.3 464.5 278.5 464.7 287.7 464.8 283.3 465.0 277.1 465.1 284.3 465.2 282.0 465.4 278.6 465.5 281.3 465.7 279.7 465.8 273.9 466.0 276.7 466.1 284.0 466.2 282.9 466.4 282.5 466.5 276.7 466.7 278.9 466.8 281.5 467.0 284.0 467.1 278.3 467.2 277.1 467.4 285.3 467.5 281.4 467.7 280.2 467.8 278.9 468.0 279.3 468.1 287.3 468.2 284.7 468.4 279.5 468.5 276.6 468.7 287.7 468.8 287.3 469.0 286.2 469.1 284.6 469.2 274.8 469.4 277.3 469.5 284.2 469.7 281.4 469.8 282.8 470.0 279.8 470.1 279.2 470.2 284.1 470.4 280.9 470.5 282.2 470.7 282.9 470.8 282.8 471.0 286.7 471.1 287.8 471.2 278.1 471.4 282.1 471.5 280.6 471.7 285.2 471.8 278.4 472.0 285.0 472.1 284.6 472.2 284.4 472.4 278.8 472.5 281.6 472.7 277.9 472.8 283.8 473.0 285.7 473.1 276.7 473.2 279.6 473.4 281.8 473.5 280.7 473.7 288.3 473.8 282.6 474.0 284.0 474.1 279.0 474.2 288.9 474.4 283.6 474.5 285.8 474.7 283.3 474.8 275.3 475.0 276.7 475.1 277.8 475.2 284.5 475.4 281.3 475.5 284.9 475.7 284.5 475.8 284.6 476.0 286.8 476.1 284.0 476.2 277.2 476.4 281.0 476.5 289.4 476.7 279.1 476.8 287.9 477.0 288.9 477.1 280.7 477.2 284.0 477.4 278.0 477.5 286.1 477.7 280.6 477.8 278.9 478.0 283.0 478.1 283.4 478.2 283.0 478.4 285.6 478.5 284.2 478.7 282.2 478.8 288.2 479.0 292.1 479.1 285.0 479.2 282.1 479.4 281.1 479.5 286.7 479.7 283.8 479.8 285.1 480.0 277.6 480.1 280.9 480.3 280.9 480.4 288.4 480.5 283.8 480.7 275.9 480.8 286.3 481.0 288.3 481.1 289.2 481.3 274.8 481.4 284.4 481.5 286.4 481.7 285.6 481.8 282.4 482.0 276.4 482.1 281.9 482.3 282.5 482.4 285.6 482.5 286.2 482.7 282.4 482.8 286.4 483.0 279.5 483.1 281.8 483.3 284.0 483.4 286.3 483.5 283.1 483.7 288.6 483.8 285.9 484.0 281.2 484.1 284.6 484.3 281.0 484.4 280.6 484.5 279.6 484.7 290.2 484.8 287.8 485.0 278.2 485.1 288.1 485.3 287.3 485.4 282.3 485.5 285.6 485.7 292.6 485.8 285.1 486.0 285.6 486.1 288.1 486.3 280.1 486.4 279.4 486.5 278.9 486.7 284.3 486.8 287.9 487.0 281.7 487.1 280.0 487.3 285.9 487.4 284.1 487.5 287.4 487.7 284.4 487.8 284.8 488.0 285.2 488.1 286.0 488.3 282.8 488.4 282.0 488.5 292.0 488.7 293.9 488.8 290.6 489.0 280.6 489.1 286.1 489.3 290.4 489.4 280.1 489.5 284.2 489.7 284.3 489.8 282.2 490.0 282.6 490.1 289.3 490.3 283.8 490.4 284.2 490.5 291.6 490.7 282.3 490.8 278.2 491.0 287.9 491.1 292.4 491.3 285.5 491.4 286.1 491.5 280.3 491.7 281.6 491.8 290.6 492.0 289.7 492.1 287.1 492.3 283.0 492.4 280.9 492.5 281.4 492.7 281.2 492.8 288.1 493.0 282.9 493.1 283.6 493.3 288.3 493.4 288.4 493.5 286.0 493.7 287.5 493.8 285.2 494.0 278.0 494.1 284.7 494.3 283.5 494.4 283.1 494.5 285.6 494.7 283.2 494.8 289.4 495.0 284.3 495.1 286.3 495.3 286.8 495.4 284.8 495.5 287.8 495.7 288.3 495.8 288.1 496.0 283.5 496.1 283.0 496.3 284.1 496.4 286.3 496.5 279.2 496.7 282.9 496.8 282.4 497.0 284.1 497.1 283.2 497.3 289.4 497.4 288.3 497.5 290.1 497.7 282.9 497.8 284.0 498.0 285.3 498.1 291.7 498.3 291.5 498.4 283.1 498.5 288.0 498.7 293.6 498.8 281.8 499.0 284.7 499.1 290.3 499.3 288.0 499.4 281.4 499.6 290.7 499.7 288.3 499.8 287.2 500.0 280.4 500.1 284.4 500.3 289.7 500.4 286.9 500.6 288.2 500.7 283.8 500.8 290.3 501.0 284.1 501.1 289.1 501.3 287.2 501.4 282.5 501.6 291.6 501.7 281.3 501.8 282.6 502.0 286.2 502.1 280.5 502.3 279.0 502.4 285.5 502.6 284.4 502.7 285.5 502.8 288.9 503.0 295.1 503.1 285.7 503.3 295.1 503.4 287.7 503.6 286.4 503.7 277.5 503.8 281.4 504.0 287.9 504.1 288.8 504.3 283.9 504.4 288.2 504.6 290.1 504.7 284.7 504.8 281.2 505.0 283.4 505.1 285.9 505.3 288.5 505.4 290.2 505.6 284.1 505.7 287.7 505.8 286.3 506.0 287.1 506.1 291.1 506.3 291.7 506.4 285.3 506.6 284.6 506.7 284.4 506.8 284.8 507.0 285.6 507.1 286.8 507.3 285.1 507.4 283.6 507.6 283.4 507.7 287.6 507.8 295.3 508.0 289.2 508.1 289.1 508.3 287.9 508.4 285.9 508.6 293.7 508.7 285.4 508.8 283.0 509.0 282.2 509.1 287.5 509.3 283.0 509.4 283.9 509.6 284.1 509.7 282.2 509.8 287.8 510.0 280.7 510.1 294.8 510.3 277.8 510.4 281.2 510.6 286.7 510.7 288.2 510.8 285.4 511.0 287.3 511.1 287.3 511.3 286.8 511.4 288.5 511.6 287.2 511.7 285.8 511.8 285.5 512.0 289.4 512.1 285.5 512.3 288.3 512.4 291.8 512.6 287.5 512.7 290.4 512.8 284.2 513.0 287.0 513.1 288.1 513.3 287.5 513.4 288.4 513.6 291.3 513.7 285.1 513.8 284.1 514.0 288.2 514.1 281.5 514.3 287.1 514.4 291.5 514.6 287.0 514.7 288.9 514.8 288.3 515.0 291.2 515.1 288.8 515.3 288.1 515.4 278.0 515.6 285.6 515.7 290.2 515.8 287.2 516.0 284.7 516.1 290.8 516.3 284.0 516.4 285.6 516.6 290.1 516.7 285.5 516.8 287.8 517.0 287.2 517.1 282.9 517.3 285.5 517.4 285.9 517.6 284.7 517.7 291.3 517.9 287.0 518.0 284.6 518.1 281.6 518.3 285.6 518.4 291.6 518.6 285.6 518.7 289.7 518.9 288.4 519.0 285.0 519.1 283.0 519.3 288.4 519.4 280.4 519.6 288.0 519.7 281.9 519.9 289.6 520.0 285.0 520.1 286.2 520.3 290.8 520.4 283.1 520.6 287.0 520.7 285.7 520.9 289.2 521.0 289.8 521.1 288.2 521.3 287.6 521.4 285.5 521.6 289.4 521.7 286.1 521.9 287.7 522.0 288.1 522.1 282.7 522.3 283.7 522.4 288.9 522.6 288.3 522.7 293.3 522.9 280.1 523.0 289.5 523.1 292.5 523.3 288.4 523.4 290.7 523.6 287.7 523.7 287.3 523.9 290.5 524.0 282.8 524.1 279.1 524.3 288.9 524.4 287.3 524.6 287.2 524.7 287.5 524.9 288.9 525.0 285.2 525.1 289.1 525.3 288.4 525.4 282.8 525.6 286.3 525.7 287.5 525.9 283.5 526.0 290.1 526.1 285.1 526.3 289.2 526.4 291.7 526.6 281.0 526.7 281.8 526.9 288.7 527.0 285.6 527.1 288.4 527.3 292.9 527.4 285.2 527.6 290.1 527.7 286.3 527.9 284.7 528.0 288.2 528.1 287.0 528.3 289.7 528.4 286.6 528.6 288.9 528.7 287.8 528.9 279.8 529.0 284.6 529.1 284.9 529.3 289.5 529.4 282.6 529.6 287.3 529.7 285.0 529.9 280.0 530.0 286.2 530.1 289.3 530.3 286.0 530.4 290.7 530.6 289.0 530.7 288.5 530.9 285.5 531.0 286.9 531.1 289.2 531.3 287.9 531.4 283.7 531.6 287.6 531.7 289.5 531.9 292.2 532.0 291.3 532.1 284.5 532.3 290.7 532.4 282.1 532.6 285.5 532.7 285.0 532.9 293.4 533.0 290.2 533.1 288.5 533.3 284.6 533.4 291.3 533.6 285.6 533.7 288.2 533.9 290.5 534.0 285.4 534.1 288.1 534.3 278.6 534.4 288.3 534.6 280.1 534.7 287.9 534.9 287.1 535.0 288.2 535.1 294.7 535.3 278.3 535.4 288.3 535.6 284.8 535.7 289.2 535.9 287.5 536.0 286.9 536.1 285.0 536.3 284.2 536.4 288.3 536.6 281.5 536.7 291.0 536.9 284.9 537.0 288.7 537.2 283.1 537.3 289.4 537.4 286.4 537.6 290.4 537.7 291.7 537.9 285.2 538.0 287.5 538.2 288.0 538.3 292.7 538.4 282.2 538.6 289.4 538.7 287.2 538.9 282.8 539.0 286.2 539.2 284.9 539.3 291.8 539.4 284.3 539.6 291.6 539.7 285.7 539.9 289.4 540.0 280.8 540.2 284.3 540.3 287.5 540.4 283.7 540.6 281.2 540.7 287.2 540.9 290.0 541.0 287.6 541.2 286.9 541.3 288.7 541.4 285.9 541.6 290.7 541.7 291.0 541.9 282.2 542.0 290.1 542.2 289.0 542.3 287.6 542.4 289.0 542.6 291.7 542.7 294.3 542.9 293.5 543.0 286.4 543.2 292.2 543.3 281.2 543.4 290.7 543.6 290.3 543.7 291.6 543.9 285.0 544.0 292.8 544.2 292.2 544.3 288.0 544.4 282.2 544.6 288.7 544.7 284.6 544.9 281.8 545.0 285.1 545.2 296.5 545.3 282.6 545.4 286.9 545.6 288.7 545.7 291.5 545.9 284.5 546.0 284.5 546.2 291.3 546.3 289.1 546.4 292.4 546.6 283.1 546.7 286.6 546.9 290.3 547.0 288.0 547.2 283.4 547.3 288.0 547.4 280.3 547.6 284.6 547.7 290.2 547.9 291.1 548.0 289.7 548.2 290.6 548.3 282.9 548.4 286.0 548.6 291.6 548.7 296.1 548.9 289.5 549.0 284.4 549.2 284.0 549.3 292.3 549.4 292.2 549.6 284.2 549.7 289.5 549.9 294.4 550.0 294.2 550.2 287.0 550.3 288.4 550.4 291.2 550.6 285.2 550.7 283.0 550.9 286.2 551.0 293.0 551.2 292.9 551.3 290.2 551.4 284.1 551.6 281.4 551.7 284.7 551.9 288.3 552.0 292.1 552.2 285.0 552.3 289.0 552.4 282.2 552.6 281.2 552.7 289.1 552.9 285.0 553.0 285.7 553.2 280.9 553.3 292.4 553.4 283.0 553.6 289.9 553.7 284.2 553.9 288.4 554.0 294.7 554.2 290.2 554.3 290.2 554.4 293.1 554.6 292.2 554.7 295.0 554.9 284.7 555.0 294.9 555.2 290.4 555.3 286.5 555.5 291.9 555.6 291.2 555.7 288.4 555.9 291.5 556.0 283.9 556.2 283.2 556.3 286.7 556.5 292.9 556.6 290.5 556.7 288.4 556.9 285.7 557.0 288.1 557.2 292.2 557.3 285.8 557.5 285.6 557.6 289.0 557.7 290.0 557.9 288.3 558.0 292.9 558.2 288.6 558.3 283.9 558.5 280.0 558.6 292.0 558.7 287.5 558.9 289.2 559.0 289.4 559.2 292.5 559.3 291.7 559.5 291.0 559.6 288.8 559.7 287.1 559.9 289.5 560.0 285.4 560.2 289.9 560.3 291.9 560.5 290.6 560.6 288.9 560.7 285.7 560.9 285.5 561.0 286.0 561.2 287.3 561.3 290.5 561.5 290.4 561.6 290.6 561.7 292.1 561.9 285.0 562.0 287.7 562.2 290.4 562.3 290.7 562.5 286.0 562.6 285.6 562.7 292.4 562.9 290.3 563.0 289.3 563.2 286.6 563.3 284.0 563.5 288.0 563.6 289.0 563.7 289.2 563.9 290.5 564.0 288.1 564.2 292.0 564.3 286.3 564.5 289.2 564.6 288.5 564.7 281.9 564.9 283.4 565.0 286.2 565.2 288.8 565.3 289.6 565.5 292.6 565.6 288.1 565.7 286.7 565.9 288.9 566.0 283.4 566.2 287.1 566.3 284.2 566.5 287.4 566.6 284.4 566.7 285.7 566.9 293.8 567.0 291.0 567.2 296.0 567.3 287.9 567.5 286.7 567.6 284.6 567.7 287.2 567.9 281.0 568.0 287.6 568.2 285.6 568.3 282.6 568.5 281.1 568.6 284.0 568.7 285.9 568.9 287.6 569.0 281.7 569.2 287.2 569.3 288.5 569.5 295.4 569.6 288.6 569.7 290.2 569.9 284.5 570.0 286.6 570.2 283.7 570.3 283.5 570.5 287.7 570.6 285.1 570.7 291.3 570.9 285.9 571.0 287.6 571.2 281.6 571.3 283.1 571.5 288.7 571.6 284.1 571.7 291.0 571.9 283.0 572.0 282.8 572.2 292.9 572.3 280.4 572.5 285.0 572.6 288.8 572.7 289.1 572.9 282.6 573.0 294.8 573.2 285.4 573.3 279.6 573.5 290.1 573.6 285.1 573.8 286.9 573.9 289.5 574.0 283.3 574.2 283.7 574.3 285.2 574.5 288.8 574.6 280.8 574.8 290.8 574.9 287.0 575.0 281.0 575.2 285.2 575.3 286.2 575.5 288.2 575.6 287.1 575.8 288.2 575.9 284.0 576.0 286.9 576.2 277.1 576.3 288.0 576.5 283.7 576.6 290.0 576.8 282.3 576.9 282.7 577.0 284.3 577.2 287.6 577.3 286.1 577.5 289.0 577.6 285.3 577.8 288.7 577.9 294.3 578.0 289.9 578.2 287.5 578.3 280.6 578.5 288.7 578.6 290.1 578.8 284.5 578.9 289.2 579.0 277.5 579.2 283.0 579.3 281.9 579.5 287.5 579.6 281.9 579.8 281.5 579.9 290.3 580.0 279.4 580.2 286.2 580.3 288.1 580.5 283.3 580.6 281.1 580.8 283.9 580.9 282.4 581.0 281.6 581.2 285.5 581.3 284.8 581.5 294.0 581.6 289.6 581.8 285.8 581.9 287.2 582.0 291.3 582.2 289.5 582.3 285.4 582.5 282.1 582.6 292.1 582.8 285.6 582.9 286.6 583.0 291.1 583.2 286.6 583.3 290.6 583.5 284.5 583.6 285.9 583.8 284.6 583.9 292.6 584.0 279.3 584.2 283.5 584.3 280.5 584.5 281.0 584.6 278.6 584.8 280.0 584.9 287.2 585.0 288.0 585.2 280.5 585.3 278.6 585.5 281.3 585.6 288.9 585.8 282.7 585.9 276.0 586.0 286.3 586.2 283.5 586.3 286.5 586.5 285.9 586.6 279.9 586.8 287.8 586.9 286.9 587.0 282.3 587.2 277.2 587.3 281.2 587.5 281.7 587.6 288.5 587.8 284.1 587.9 285.0 588.0 286.9 588.2 285.0 588.3 287.6 588.5 286.8 588.6 289.5 588.8 281.3 588.9 287.0 589.0 284.9 589.2 293.0 589.3 290.1 589.5 282.9 589.6 287.8 589.8 278.4 589.9 280.6 590.0 283.3 590.2 285.1 590.3 280.1 590.5 284.2 590.6 288.5 590.8 278.0 590.9 278.8 591.0 277.1 591.2 288.0 591.3 280.1 591.5 282.4 591.6 280.4 591.8 283.1 591.9 282.2 592.0 284.1 592.2 284.3 592.3 290.0 592.5 281.2 592.6 285.0 592.8 284.1 592.9 281.3 593.1 288.0 593.2 291.4 593.3 280.9 593.5 292.5 593.6 284.7 593.8 285.1 593.9 276.0 594.1 285.6 594.2 284.9 594.3 283.8 594.5 287.5 594.6 283.9 594.8 286.2 594.9 281.9 595.1 279.8 595.2 284.1 595.3 285.5 595.5 285.7 595.6 283.3 595.8 280.3 595.9 283.2 596.1 281.8 596.2 277.9 596.3 283.8 596.5 282.0 596.6 278.4 596.8 281.3 596.9 284.3 597.1 287.9 597.2 275.7 597.3 282.1 597.5 285.1 597.6 287.9 597.8 285.3 597.9 280.3 598.1 282.3 598.2 284.2 598.3 281.3 598.5 280.1 598.6 279.3 598.8 292.0 598.9 284.3 599.1 283.3 599.2 286.6 599.3 284.4 599.5 283.6 599.6 284.9 599.8 281.2 599.9 282.5 600.1 287.0 600.2 285.9 600.3 279.3 600.5 288.4 600.6 281.4 600.8 276.7 600.9 285.1 601.1 284.7 601.2 283.1 601.3 278.8 601.5 287.0 601.6 285.0 601.8 284.0 601.9 283.6 602.1 284.2 602.2 290.8 602.3 281.1 602.5 284.0 602.6 286.9 602.8 285.8 602.9 280.1 603.1 282.3 603.2 281.7 603.3 277.8 603.5 282.7 603.6 287.3 603.8 284.5 603.9 287.7 604.1 285.0 604.2 281.1 604.3 285.7 604.5 277.2 604.6 287.4 604.8 281.5 604.9 288.8 605.1 277.7 605.2 279.4 605.3 280.8 605.5 281.1 605.6 276.8 605.8 277.7 605.9 283.9 606.1 279.1 606.2 284.9 606.3 287.8 606.5 276.2 606.6 279.8 606.8 287.9 606.9 285.1 607.1 276.4 607.2 282.6 607.3 287.2 607.5 274.0 607.6 282.8 607.8 285.1 607.9 279.4 608.1 279.3 608.2 284.3 608.3 276.2 608.5 284.5 608.6 286.9 608.8 283.0 608.9 277.3 609.1 288.7 609.2 283.0 609.3 285.4 609.5 280.0 609.6 283.4 609.8 287.7 609.9 278.4 610.1 279.2 610.2 276.6 610.3 285.7 610.5 286.0 610.6 281.3 610.8 285.6 610.9 284.5 611.1 291.2 611.2 279.6 611.4 284.8 611.5 282.1 611.6 289.7 611.8 284.9 611.9 278.9 612.1 284.9 612.2 282.5 612.4 279.2 612.5 284.2 612.6 282.8 612.8 277.8 612.9 280.4 613.1 286.0 613.2 285.3 613.4 281.2 613.5 280.2 613.6 282.3 613.8 281.1 613.9 277.3 614.1 284.1 614.2 278.7 614.4 286.6 614.5 283.9 614.6 284.5 614.8 280.6 614.9 282.3 615.1 280.0 615.2 280.7 615.4 278.7 615.5 287.7 615.6 278.6 615.8 289.5 615.9 285.8 616.1 279.6 616.2 287.6 616.4 284.3 616.5 279.8 616.6 283.6 616.8 281.2 616.9 279.8 617.1 282.2 617.2 284.0 617.4 281.5 617.5 282.3 617.6 285.4 617.8 281.9 617.9 280.7 618.1 276.9 618.2 281.8 618.4 279.9 618.5 280.6 618.6 284.4 618.8 284.4 618.9 281.5 619.1 279.8 619.2 282.2 619.4 283.2 619.5 282.9 619.6 277.1 619.8 283.1 619.9 278.4 620.1 283.2 620.2 283.5 620.4 283.0 620.5 286.8 620.6 282.5 620.8 283.8 620.9 279.5 621.1 281.9 621.2 281.2 621.4 282.2 621.5 281.0 621.6 273.4 621.8 284.5 621.9 284.6 622.1 274.5 622.2 282.7 622.4 285.2 622.5 284.1 622.6 284.0 622.8 281.0 622.9 279.8 623.1 288.3 623.2 282.6 623.4 286.8 623.5 280.8 623.6 284.0 623.8 283.4 623.9 283.3 624.1 276.1 624.2 289.3 624.4 281.7 624.5 279.6 624.6 281.5 624.8 274.4 624.9 285.3 625.1 279.1 625.2 282.0 625.4 281.3 625.5 274.4 625.6 279.3 625.8 284.8 625.9 277.2 626.1 281.3 626.2 284.4 626.4 286.3 626.5 277.5 626.6 285.0 626.8 284.1 626.9 283.5 627.1 285.2 627.2 284.5 627.4 278.5 627.5 283.7 627.6 280.2 627.8 283.5 627.9 281.1 628.1 287.8 628.2 285.2 628.4 283.7 628.5 279.5 628.6 283.6 628.8 277.9 628.9 278.2 629.1 275.2 629.2 283.9 629.4 279.4 629.5 284.7 629.7 284.8 629.8 284.3 629.9 279.5 630.1 285.8 630.2 285.1 630.4 276.6 630.5 283.0 630.7 278.5 630.8 280.9 630.9 285.7 631.1 282.4 631.2 287.4 631.4 283.9 631.5 284.6 631.7 288.3 631.8 287.2 631.9 286.1 632.1 288.5 632.2 288.2 632.4 279.0 632.5 280.3 632.7 284.4 632.8 288.4 632.9 281.9 633.1 278.4 633.2 283.7 633.4 281.7 633.5 289.0 633.7 275.1 633.8 286.6 633.9 286.1 634.1 274.4 634.2 279.8 634.4 282.6 634.5 284.4 634.7 282.8 634.8 284.4 634.9 282.8 635.1 279.4 635.2 288.1 635.4 283.1 635.5 279.2 635.7 283.5 635.8 281.6 635.9 280.4 636.1 280.0 636.2 277.8 636.4 280.4 636.5 278.7 636.7 276.2 636.8 284.9 636.9 284.3 637.1 282.0 637.2 279.3 637.4 280.4 637.5 288.8 637.7 280.4 637.8 286.7 637.9 285.0 638.1 285.2 638.2 281.8 638.4 282.7 638.5 283.2 638.7 280.0 638.8 288.6" fill="none" stroke="#2ca02c" stroke-width="1.4" stroke-linejoin="miter" stroke-miterlimit="2"/>
<path d="M61.10 39.65L65.70 39.65M290.50 39.65L295.10 39.65M61.10 60.40L65.70 60.40M290.50 60.40L295.10 60.40M61.10 81.15L65.70 81.15M290.50 81.15L295.10 81.15M75.90 101.90L75.90 106.50M128.40 101.90L128.40 106.50M180.90 101.90L180.90 106.50M233.40 101.90L233.40 106.50M285.90 101.90L285.90 106.50M61.10 151.65L65.70 151.65M290.50 151.65L295.10 151.65M61.10 172.40L65.70 172.40M290.50 172.40L295.10 172.40M61.10 193.15L65.70 193.15M290.50 193.15L295.10 193.15M75.90 213.90L75.90 218.50M128.40 213.90L128.40 218.50M180.90 213.90L180.90 218.50M233.40 213.90L233.40 218.50M285.90 213.90L285.90 218.50M61.10 263.65L65.70 263.65M290.50 263.65L295.10 263.65M61.10 284.40L65.70 284.40M290.50 284.40L295.10 284.40M61.10 305.15L65.70 305.15M290.50 305.15L295.10 305.15M75.90 325.90L75.90 330.50M128.40 325.90L128.40 330.50M180.90 325.90L180.90 330.50M233.40 325.90L233.40 330.50M285.90 325.90L285.90 330.50M419.30 39.65L423.90 39.65M648.80 39.65L653.40 39.65M419.30 60.40L423.90 60.40M648.80 60.40L653.40 60.40M419.30 81.15L423.90 81.15M648.80 81.15L653.40 81.15M434.00 101.90L434.00 106.50M486.50 101.90L486.50 106.50M539.00 101.90L539.00 106.50M591.50 101.90L591.50 106.50M644.00 101.90L644.00 106.50M419.30 151.65L423.90 151.65M648.80 151.65L653.40 151.65M419.30 172.40L423.90 172.40M648.80 172.40L653.40 172.40M419.30 193.15L423.90 193.15M648.80 193.15L653.40 193.15M434.00 213.90L434.00 218.50M486.50 213.90L486.50 218.50M539.00 213.90L539.00 218.50M591.50 213.90L591.50 218.50M644.00 213.90L644.00 218.50M419.30 263.65L423.90 263.65M648.80 263.65L653.40 263.65M419.30 284.40L423.90 284.40M648.80 284.40L653.40 284.40M419.30 305.15L423.90 305.15M648.80 305.15L653.40 305.15M434.00 325.90L434.00 330.50M486.50 325.90L486.50 330.50M539.00 325.90L539.00 330.50M591.50 325.90L591.50 330.50M644.00 325.90L644.00 330.50" stroke="#000" stroke-width="1.55" fill="none"/>
<rect x="65.70" y="18.90" width="224.80" height="83.00" fill="none" stroke="#000" stroke-width="1.55"/>
<rect x="65.70" y="130.90" width="224.80" height="83.00" fill="none" stroke="#000" stroke-width="1.55"/>
<rect x="65.70" y="242.90" width="224.80" height="83.00" fill="none" stroke="#000" stroke-width="1.55"/>
<rect x="423.90" y="18.90" width="224.90" height="83.00" fill="none" stroke="#000" stroke-width="1.55"/>
<rect x="423.90" y="130.90" width="224.90" height="83.00" fill="none" stroke="#000" stroke-width="1.55"/>
<rect x="423.90" y="242.90" width="224.90" height="83.00" fill="none" stroke="#000" stroke-width="1.55"/>
<g font-family='"Liberation Serif", serif' fill="#000" stroke="#000" stroke-width="0.2">
<text x="20.94" y="43.65" font-size="12.0" textLength="34.65" lengthAdjust="spacingAndGlyphs">40.343</text>
<text x="300.55" y="43.65" font-size="12.0" textLength="18.90" lengthAdjust="spacingAndGlyphs">200</text>
<text x="20.94" y="64.40" font-size="12.0" textLength="34.65" lengthAdjust="spacingAndGlyphs">40.335</text>
<text x="300.62" y="64.40" font-size="12.0" textLength="6.30" lengthAdjust="spacingAndGlyphs">0</text>
<text x="20.81" y="85.15" font-size="12.0" textLength="34.65" lengthAdjust="spacingAndGlyphs">40.327</text>
<text x="300.44" y="85.15" font-size="12.0" textLength="27.37" lengthAdjust="spacingAndGlyphs">−200</text>
<text stroke-width="0" fill="#1a1a1a" x="65.48" y="10.00" font-size="13.200000000000001" textLength="18.14" lengthAdjust="spacingAndGlyphs">(a)</text>
<text transform="translate(339.30,0) rotate(-90)" x="-100.10" y="0" font-size="12.0" textLength="79.24" lengthAdjust="spacingAndGlyphs">Deviation / ppm</text>
<text transform="translate(14.60,0) rotate(-90)" x="-106.70" y="0" font-size="12.0" textLength="92.40" lengthAdjust="spacingAndGlyphs">Peak Position / rad</text>
<text x="20.97" y="155.65" font-size="12.0" textLength="34.65" lengthAdjust="spacingAndGlyphs">94.199</text>
<text x="300.55" y="155.65" font-size="12.0" textLength="18.90" lengthAdjust="spacingAndGlyphs">200</text>
<text x="21.21" y="176.40" font-size="12.0" textLength="34.65" lengthAdjust="spacingAndGlyphs">94.181</text>
<text x="300.62" y="176.40" font-size="12.0" textLength="6.30" lengthAdjust="spacingAndGlyphs">0</text>
<text x="21.15" y="197.15" font-size="12.0" textLength="34.65" lengthAdjust="spacingAndGlyphs">94.162</text>
<text x="300.44" y="197.15" font-size="12.0" textLength="27.37" lengthAdjust="spacingAndGlyphs">−200</text>
<text stroke-width="0" fill="#1a1a1a" x="65.52" y="122.00" font-size="13.200000000000001" textLength="18.06" lengthAdjust="spacingAndGlyphs">(b)</text>
<text transform="translate(339.30,0) rotate(-90)" x="-212.10" y="0" font-size="12.0" textLength="79.24" lengthAdjust="spacingAndGlyphs">Deviation / ppm</text>
<text transform="translate(14.60,0) rotate(-90)" x="-218.70" y="0" font-size="12.0" textLength="92.40" lengthAdjust="spacingAndGlyphs">Peak Position / rad</text>
<text x="14.85" y="267.65" font-size="12.0" textLength="40.95" lengthAdjust="spacingAndGlyphs">116.772</text>
<text x="300.55" y="267.65" font-size="12.0" textLength="18.90" lengthAdjust="spacingAndGlyphs">200</text>
<text x="14.67" y="288.40" font-size="12.0" textLength="40.95" lengthAdjust="spacingAndGlyphs">116.749</text>
<text x="300.62" y="288.40" font-size="12.0" textLength="6.30" lengthAdjust="spacingAndGlyphs">0</text>
<text x="14.53" y="309.15" font-size="12.0" textLength="40.95" lengthAdjust="spacingAndGlyphs">116.726</text>
<text x="300.44" y="309.15" font-size="12.0" textLength="27.37" lengthAdjust="spacingAndGlyphs">−200</text>
<text x="72.75" y="344.00" font-size="12.0" textLength="6.30" lengthAdjust="spacingAndGlyphs">0</text>
<text x="125.32" y="344.00" font-size="12.0" textLength="6.30" lengthAdjust="spacingAndGlyphs">2</text>
<text x="177.73" y="344.00" font-size="12.0" textLength="6.30" lengthAdjust="spacingAndGlyphs">4</text>
<text x="230.17" y="344.00" font-size="12.0" textLength="6.30" lengthAdjust="spacingAndGlyphs">6</text>
<text x="282.75" y="344.00" font-size="12.0" textLength="6.30" lengthAdjust="spacingAndGlyphs">8</text>
<text stroke-width="0" fill="#1a1a1a" x="65.48" y="234.00" font-size="13.200000000000001" textLength="18.14" lengthAdjust="spacingAndGlyphs">(c)</text>
<text transform="translate(339.30,0) rotate(-90)" x="-324.10" y="0" font-size="12.0" textLength="79.24" lengthAdjust="spacingAndGlyphs">Deviation / ppm</text>
<text transform="translate(8.80,0) rotate(-90)" x="-320.40" y="0" font-size="12.0" textLength="71.85" lengthAdjust="spacingAndGlyphs">Distance / mm</text>
<text x="152.78" y="355.00" font-size="12.0" textLength="50.87" lengthAdjust="spacingAndGlyphs">Time / hrs</text>
<text x="379.13" y="43.65" font-size="12.0" textLength="34.65" lengthAdjust="spacingAndGlyphs">11.088</text>
<text x="658.85" y="43.65" font-size="12.0" textLength="18.90" lengthAdjust="spacingAndGlyphs">200</text>
<text x="379.03" y="64.40" font-size="12.0" textLength="34.65" lengthAdjust="spacingAndGlyphs">11.086</text>
<text x="658.92" y="64.40" font-size="12.0" textLength="6.30" lengthAdjust="spacingAndGlyphs">0</text>
<text x="378.85" y="85.15" font-size="12.0" textLength="34.65" lengthAdjust="spacingAndGlyphs">11.084</text>
<text x="658.74" y="85.15" font-size="12.0" textLength="27.37" lengthAdjust="spacingAndGlyphs">−200</text>
<text stroke-width="0" fill="#1a1a1a" x="423.72" y="10.00" font-size="13.200000000000001" textLength="18.06" lengthAdjust="spacingAndGlyphs">(d)</text>
<text transform="translate(697.60,0) rotate(-90)" x="-100.10" y="0" font-size="12.0" textLength="79.24" lengthAdjust="spacingAndGlyphs">Deviation / ppm</text>
<text transform="translate(373.30,0) rotate(-90)" x="-116.06" y="0" font-size="12.0" textLength="111.11" lengthAdjust="spacingAndGlyphs">Phase Amplitude / rad</text>
<text x="379.41" y="155.65" font-size="12.0" textLength="34.65" lengthAdjust="spacingAndGlyphs">25.891</text>
<text x="658.85" y="155.65" font-size="12.0" textLength="18.90" lengthAdjust="spacingAndGlyphs">200</text>
<text x="379.03" y="176.40" font-size="12.0" textLength="34.65" lengthAdjust="spacingAndGlyphs">25.886</text>
<text x="658.92" y="176.40" font-size="12.0" textLength="6.30" lengthAdjust="spacingAndGlyphs">0</text>
<text x="379.41" y="197.15" font-size="12.0" textLength="34.65" lengthAdjust="spacingAndGlyphs">25.881</text>
<text x="658.74" y="197.15" font-size="12.0" textLength="27.37" lengthAdjust="spacingAndGlyphs">−200</text>
<text stroke-width="0" fill="#1a1a1a" x="423.68" y="122.00" font-size="13.200000000000001" textLength="18.14" lengthAdjust="spacingAndGlyphs">(e)</text>
<text transform="translate(697.60,0) rotate(-90)" x="-212.10" y="0" font-size="12.0" textLength="79.24" lengthAdjust="spacingAndGlyphs">Deviation / ppm</text>
<text transform="translate(373.30,0) rotate(-90)" x="-242.26" y="0" font-size="12.0" textLength="110.91" lengthAdjust="spacingAndGlyphs">Phase Amplitude / rad</text>
<text x="373.05" y="267.65" font-size="12.0" textLength="40.95" lengthAdjust="spacingAndGlyphs">116.772</text>
<text x="658.85" y="267.65" font-size="12.0" textLength="18.90" lengthAdjust="spacingAndGlyphs">200</text>
<text x="372.87" y="288.40" font-size="12.0" textLength="40.95" lengthAdjust="spacingAndGlyphs">116.749</text>
<text x="658.92" y="288.40" font-size="12.0" textLength="6.30" lengthAdjust="spacingAndGlyphs">0</text>
<text x="372.84" y="309.15" font-size="12.0" textLength="40.95" lengthAdjust="spacingAndGlyphs">116.725</text>
<text x="658.74" y="309.15" font-size="12.0" textLength="27.37" lengthAdjust="spacingAndGlyphs">−200</text>
<text x="430.85" y="344.00" font-size="12.0" textLength="6.30" lengthAdjust="spacingAndGlyphs">0</text>
<text x="483.42" y="344.00" font-size="12.0" textLength="6.30" lengthAdjust="spacingAndGlyphs">2</text>
<text x="535.83" y="344.00" font-size="12.0" textLength="6.30" lengthAdjust="spacingAndGlyphs">4</text>
<text x="588.27" y="344.00" font-size="12.0" textLength="6.30" lengthAdjust="spacingAndGlyphs">6</text>
<text x="640.85" y="344.00" font-size="12.0" textLength="6.30" lengthAdjust="spacingAndGlyphs">8</text>
<text stroke-width="0" fill="#1a1a1a" x="423.59" y="234.00" font-size="13.200000000000001" textLength="18.31" lengthAdjust="spacingAndGlyphs">(f)</text>
<text transform="translate(697.60,0) rotate(-90)" x="-324.10" y="0" font-size="12.0" textLength="79.24" lengthAdjust="spacingAndGlyphs">Deviation / ppm</text>
<text transform="translate(367.00,0) rotate(-90)" x="-320.40" y="0" font-size="12.0" textLength="71.85" lengthAdjust="spacingAndGlyphs">Distance / mm</text>
<text x="511.03" y="355.00" font-size="12.0" textLength="50.87" lengthAdjust="spacingAndGlyphs">Time / hrs</text>
</g></svg>
</body></html>
